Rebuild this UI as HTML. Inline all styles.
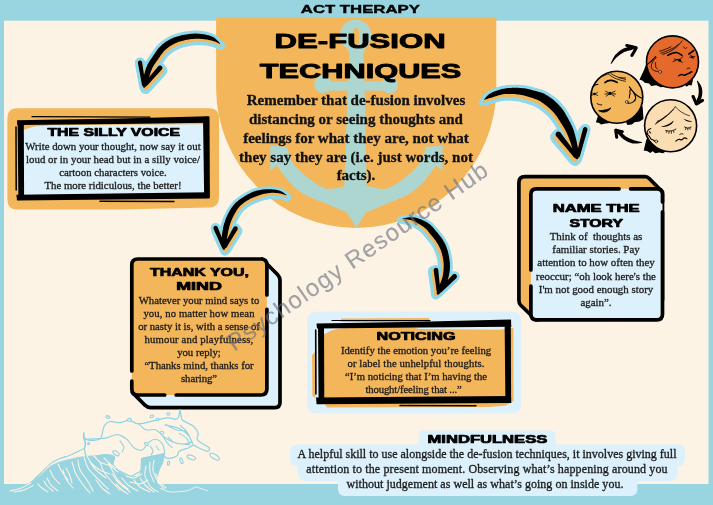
<!DOCTYPE html>
<html>
<head>
<meta charset="utf-8">
<title>ACT Therapy De-fusion Techniques</title>
<style>
html,body{margin:0;padding:0;}
body{width:713px;height:505px;overflow:hidden;background:#98d5e0;position:relative;font-family:"Liberation Serif",serif;}
#bg,#heads{position:absolute;left:0;top:0;width:713px;height:505px;}
.t{position:absolute;white-space:nowrap;text-align:center;font-family:"Liberation Serif",serif;-webkit-text-stroke:0.32px currentColor;will-change:transform;}
#wm{position:absolute;left:357.5px;top:255.7px;width:0;height:0;}
#wm span{position:absolute;white-space:nowrap;font-family:"Liberation Sans",sans-serif;font-size:24px;letter-spacing:1.28px;color:rgba(104,112,128,0.62);-webkit-text-stroke:0.12px rgba(104,112,128,0.62);transform:translate(-50%,-50%) rotate(-34.8deg);}
</style>
</head>
<body>
<svg id="bg" viewBox="0 0 713 505" width="713" height="505">
<!-- cream page -->
<rect x="4" y="20.7" width="704.5" height="463.3" fill="#fdf3e4"/>
<!-- orange half circle -->
<path d="M216.1 17.8H496.3V88A140.1 140.1 0 0 1 216.1 88Z" fill="#f4b65b"/>
<!-- ANCHOR -->
<g id="anchor" fill="#aed6d1">
<path fill-rule="evenodd" d="M355.6 19.7C365 19.7 371.4 27 371.4 35C371.4 41 368 45.5 365.4 48.5C364 50.5 363.6 53 363.6 56L364.8 95L366.6 186V200H344.2V186L347.6 95L349.6 56C349.6 53 348.6 50.5 346.6 48.5C343 45.5 339.9 41 339.9 35C339.9 27 346.4 19.7 355.6 19.7ZM356.2 27.4C354 27.4 352.8 31 352.8 36.4C352.8 41.5 354 45.4 356.2 45.4C358.4 45.4 359.6 41.5 359.6 36.4C359.6 31 358.4 27.4 356.2 27.4Z"/>
<rect x="320" y="81.6" width="72" height="9"/><circle cx="322.9" cy="84.4" r="8.8"/><circle cx="389.8" cy="85.1" r="8.4"/>
<path id="arm" d="M358 226.6L355.8 226.4L346.5 212.2C342 210.4 337 208.2 333.4 206.7C329 204.8 324 203 320.4 201.3C316 199.6 312.5 198.4 309.5 196.9C305 194.6 301.5 192.6 298.6 190.4C293 186.4 289 181.8 285.5 177.3C282 173 279 169 276.8 165.3L270.3 170.8L270.3 145.7L286.6 146.8L291 159.9C293 163.4 295.6 166.8 298.6 169.7C301.5 172.6 304.4 175.2 307.3 177.3C310 179.6 313 181.8 316 183.8C319 185.6 322 187.2 324.7 188.2C328 189.2 332 189 335.6 188.2L346.5 186L358 186Z"/>
<use href="#arm" transform="translate(712.8 0) scale(-1 1)"/>
</g>

<!-- SILLY VOICE box -->
<path d="M17 108.2H209Q219 108.2 219 118V197Q219 207.4 209 207.6L120 209.4H17Q7.4 209.4 7.4 199.4V118Q7.4 108.2 17 108.2Z" fill="#f4b65b"/>
<path d="M23 130L34 126.4L52 125.2L120 124.8L204 124.2L204.4 193.4L23.4 195.4Z" fill="#dcf1fb"/>
<g fill="#000">
<path d="M17 120.3L120 118.4L208.6 116.2L208.9 122.7L120 124L17.4 125.1Z"/>
<path d="M203 117L209.5 116.6L209.9 197.6L204.2 198.2Z"/>
<path d="M16.4 194.7L209 192.2L209.5 198.4L17 200.5Z"/>
<path d="M17.6 121L23.8 121L24.1 199L18.4 199.7Z"/>
</g>
<g fill="none" stroke="#000" stroke-linecap="round">
<path d="M32 116.7L150 117.1" stroke-width="1.2"/>
<path d="M16 127L16.2 190" stroke-width="1.5"/>
<path d="M100 201.3L174 201.5" stroke-width="1.4"/>
</g>

<!-- NOTICING box -->
<path d="M317 311.4H511Q521.4 311.4 521.4 321.4V403.5Q521.4 413.6 511 413.6H317Q307.2 413.6 307.2 403.6V321.4Q307.2 311.4 317 311.4Z" fill="#dcf1fb"/>
<path d="M341 318.4L429 318L429.4 321.6L341 322Z" fill="#f4b65b"/>
<path d="M312 355L315.4 352L315.4 398L312.4 396Z" fill="#f4b65b"/>
<path d="M324 334.6L330 331L338 328.8L346 327.8L412 327.4L420 329L500 329.8L513.4 327.8L513.6 401L506 405.4L490 407L327 407.4L323.6 402Z" fill="#f4b65b"/>
<g fill="#000">
<path d="M316.5 323.5L420 321.8L511 319.6L511.3 326.8L420 327.6L317 328.4Z"/>
<path d="M504.6 320.6L510.8 320.2L511.1 401L505.4 401.5Z"/>
<path d="M316 397.5L511 396L511.3 403L316.6 404.3Z"/>
<path d="M318 324.4L324 324.4L324.3 402.6L318.6 403.1Z"/>
</g>
<g fill="none" stroke="#000" stroke-linecap="round">
<path d="M332 320.5L430 320.7" stroke-width="1.2"/>
<path d="M315.7 330L315.9 394" stroke-width="1.6"/>
<path d="M400 405.5L476 405.7" stroke-width="1.4"/>
</g>

<!-- THANK YOU MIND 3D box -->
<g stroke="#000" stroke-width="3.7" stroke-linecap="round" stroke-linejoin="round">
<path d="M262 259L277.5 274.5Q280 277 280 280.5V402.6Q280 407.6 275 407.6H150.5Q147.5 407.6 145 405.2L132.5 392.6Z" fill="#dcf1fb"/>
<rect x="131.8" y="259" width="135.1" height="136" rx="6" fill="#f4b65b" stroke="none"/>
<g fill="none">
<path d="M266.9 309.3V389Q266.9 395 260.9 395H176.2"/>
<path d="M164.7 395H137.8Q131.8 395 131.8 389V381.2"/>
<path d="M131.8 371V265Q131.8 259 137.8 259H260.9Q266.9 259 266.9 265V295"/>
</g>
</g>

<!-- NAME THE STORY 3D box -->
<g stroke="#000" stroke-width="3.7" stroke-linecap="round" stroke-linejoin="round">
<path d="M518.9 182.7Q518.9 176.7 524.9 176.7H645Q647.5 176.7 649.5 178.7L662.5 192V300L536 320L521 305.5Q518.9 303.5 518.9 300.5Z" fill="#f4b65b"/>
<rect x="530.9" y="188.8" width="131.6" height="131" rx="5.5" fill="#dcf1fb" stroke="none"/>
<g fill="none">
<path d="M630.6 188.8H657Q662.5 188.8 662.5 194.3V201.9"/>
<path d="M662.5 211.9V314.3Q662.5 319.8 657 319.8H536.4Q530.9 319.8 530.9 314.3V286.2"/>
<path d="M530.9 270V194.3Q530.9 188.8 536.4 188.8H619.1"/>
</g>
</g>

<!-- MINDFULNESS highlight -->
<g fill="#dcf1fb">
<rect x="418.5" y="430.6" width="137.4" height="20" rx="5"/>
<rect x="290" y="444.6" width="395" height="21.6" rx="6.5"/>
<rect x="298" y="458" width="379.5" height="23" rx="6.5"/>
<rect x="338" y="472" width="299.4" height="24" rx="6.5"/>
</g>

<!-- WAVE -->
<g stroke-linecap="round" stroke-linejoin="round">
<path d="M84.4 449.0C84.6 448.0 85.5 444.8 85.4 443.0C85.3 441.2 84.1 440.0 83.8 438.1C83.6 436.3 83.7 432.2 83.8 432.2C84.0 432.2 83.6 436.8 84.8 438.1C86.0 439.5 88.4 440.5 91.0 440.5C93.6 440.5 98.3 440.5 100.5 438.1C102.7 435.8 102.5 429.0 104.1 426.2C105.7 423.4 107.5 422.1 110.1 421.5C112.7 420.9 116.4 422.9 119.6 422.7C122.8 422.5 126.0 420.1 129.1 420.3C132.3 420.5 134.3 423.8 138.7 423.8C143.1 423.8 150.6 421.3 155.4 420.3C160.1 419.3 163.7 418.1 167.3 417.9C170.9 417.7 174.8 419.7 176.8 419.1C178.8 418.5 178.7 415.9 179.2 414.3C179.7 412.7 179.7 409.5 179.9 409.5C180.2 409.6 180.4 413.0 180.9 414.8C181.4 416.6 180.7 418.4 182.8 420.3C184.9 422.2 190.9 424.0 193.5 426.2C196.1 428.4 197.7 431.2 198.3 433.4C198.9 435.6 196.3 437.6 197.1 439.3C197.9 441.1 201.1 442.7 203.1 444.1C205.0 445.5 208.2 446.5 209.0 447.7C209.8 448.9 209.2 451.1 207.8 451.3C206.4 451.5 203.1 449.9 200.7 448.9C198.3 447.9 195.5 445.5 193.5 445.3C191.5 445.1 191.1 446.7 188.8 447.7C186.4 448.7 181.2 449.9 179.2 451.3C177.2 452.7 178.8 454.8 176.8 456.0C174.8 457.2 169.7 458.8 167.3 458.4C164.9 458.0 163.3 454.4 162.5 453.6L164.0 454.0L155.2 455.5L141.8 458.5L141.0 471.0L131.0 476.5L118.0 470.3L112.9 464.4L114.5 457.0L104.7 454.7L95.0 456.0L86.0 456.5Z" fill="#fdf3e4" stroke="#8fd3e4" stroke-width="1.25"/>
<path d="M26.0 485.0C27.2 484.3 30.3 482.8 33.0 481.0C35.7 479.2 39.0 476.5 42.0 474.0C45.0 471.5 47.9 468.0 50.9 466.0C53.9 464.0 56.9 463.1 60.0 462.0C63.1 460.9 66.4 460.2 69.4 459.5C72.4 458.8 75.2 458.0 78.0 457.5C80.8 457.0 83.2 456.8 86.0 456.5C88.8 456.2 91.9 456.3 95.0 456.0C98.1 455.7 102.0 454.9 104.7 454.7C107.4 454.5 109.4 454.6 111.0 455.0C112.6 455.4 114.1 456.0 114.5 457.0C114.9 458.0 113.8 459.8 113.5 461.0C113.2 462.2 112.7 463.2 112.9 464.4C113.1 465.6 113.7 467.0 114.5 468.0C115.3 469.0 116.4 469.2 118.0 470.3C119.6 471.4 121.8 473.5 124.0 474.5C126.2 475.5 128.7 476.2 131.0 476.5C133.3 476.8 136.3 476.9 138.0 476.0C139.7 475.1 140.4 473.2 141.0 471.0C141.6 468.8 141.4 465.1 141.5 463.0C141.6 460.9 140.7 459.5 141.8 458.5C142.9 457.5 145.8 457.5 148.0 457.0C150.2 456.5 153.2 455.9 155.2 455.5C157.2 455.1 158.5 454.8 160.0 454.5C161.5 454.2 163.5 452.8 164.0 454.0C164.5 455.2 163.8 459.2 163.0 462.0C162.2 464.8 160.0 467.8 159.0 471.0C158.0 474.2 157.1 478.5 157.0 481.0C156.9 483.5 158.2 485.2 158.5 486.0L162 486L20 486Z" fill="#98d5e0" stroke="#98d5e0" stroke-width="0.8"/>
<path d="M85.0 439.3C88.4 439.1 99.9 438.9 105.3 438.1C110.7 437.4 113.6 434.4 117.2 434.6C120.8 434.8 124.0 437.2 126.8 439.3C129.5 441.5 131.3 445.9 133.9 447.7C136.5 449.5 139.9 450.9 142.3 450.1C144.6 449.3 146.0 444.7 148.2 442.9C150.4 441.1 153.0 439.1 155.4 439.3C157.8 439.5 160.9 441.7 162.5 444.1C164.1 446.5 164.5 452.1 164.9 453.6M162.5 435.8C164.1 436.8 168.5 440.3 172.1 441.7C175.6 443.1 180.6 444.1 184.0 444.1C187.4 444.1 190.9 442.1 192.3 441.7M164.9 425.0C167.3 425.6 175.2 426.8 179.2 428.6C183.2 430.4 186.4 433.0 188.8 435.8C191.1 438.5 192.7 443.7 193.5 445.3M138.7 423.8C139.9 424.8 143.1 428.8 145.8 429.8C148.6 430.8 152.6 428.8 155.4 429.8C158.2 430.8 160.5 433.6 162.5 435.8C164.5 438.0 165.7 440.9 167.3 442.9C168.9 444.9 171.3 446.9 172.1 447.7M179.2 433.4C180.4 434.2 184.6 436.4 186.4 438.1C188.2 439.9 189.4 443.1 189.9 444.1M166.0 424.5C167.6 425.4 172.5 428.6 175.6 429.7C178.7 430.8 182.4 430.2 184.6 431.2C186.8 432.2 188.3 434.9 189.0 435.6M168.2 437.1C169.4 438.1 172.1 441.9 175.6 443.1C179.1 444.4 186.8 444.4 189.0 444.6M180.1 425.2C181.3 426.4 185.5 429.7 187.5 432.7C189.5 435.7 191.2 441.4 192.0 443.1M120.0 441.0C120.7 442.0 123.7 445.2 124.0 447.0C124.3 448.8 122.3 451.2 122.0 452.0M150.0 446.0C150.5 446.8 152.8 449.5 153.0 451.0C153.2 452.5 151.3 454.3 151.0 455.0M156.0 446.0C156.5 446.7 158.5 449.3 159.0 450.0" fill="none" stroke="#8fd3e4" stroke-width="1.1"/>
<path d="M30.9 482.5C32.6 480.9 37.7 476.2 41.0 473.0C44.3 469.8 47.7 465.8 50.9 463.4C54.1 461.0 56.9 459.9 60.0 458.6C63.1 457.3 66.4 456.6 69.4 455.4C72.4 454.2 75.5 452.8 78.0 451.6C80.5 450.4 83.2 449.4 84.4 448.0C85.6 446.6 85.5 444.6 85.4 443.0C85.3 441.4 84.1 439.0 83.8 438.2" fill="none" stroke="#8fd3e4" stroke-width="1.1"/>
<g fill="#fdf3e4" stroke="#8fd3e4" stroke-width="1.1"><ellipse cx="168.5" cy="463.2" rx="1.0" ry="2.2" transform="rotate(10 168.5 463.2)"/><ellipse cx="181.4" cy="460.8" rx="1.3" ry="3.0" transform="rotate(-20 181.4 460.8)"/><ellipse cx="191.3" cy="457.4" rx="4.4" ry="2.0" transform="rotate(20 191.3 457.4)"/><ellipse cx="214.6" cy="456.6" rx="5.4" ry="2.2" transform="rotate(32 214.6 456.6)"/><ellipse cx="107.9" cy="417" rx="2.0" ry="1.2" transform="rotate(20 107.9 417)"/><ellipse cx="151.9" cy="416.4" rx="1.8" ry="1.2" transform="rotate(-20 151.9 416.4)"/><ellipse cx="168.4" cy="413.9" rx="1.6" ry="1.2" transform="rotate(0 168.4 413.9)"/><ellipse cx="129.4" cy="419.8" rx="2.0" ry="1.4" transform="rotate(0 129.4 419.8)"/><ellipse cx="157.6" cy="419.6" rx="1.6" ry="1.2" transform="rotate(0 157.6 419.6)"/><ellipse cx="116" cy="453.2" rx="3.6" ry="1.8" transform="rotate(35 116 453.2)"/><ellipse cx="146.4" cy="444" rx="2.2" ry="1.2" transform="rotate(40 146.4 444)"/><ellipse cx="162" cy="432.6" rx="1.8" ry="1.4" transform="rotate(0 162 432.6)"/><ellipse cx="88.6" cy="443.6" rx="1.0" ry="1.0" transform="rotate(0 88.6 443.6)"/></g>
<path d="M10.0 491.0C11.7 490.6 16.5 489.8 20.0 488.5C23.5 487.2 29.2 483.9 31.0 483.0M14.0 492.0C15.7 491.7 20.8 491.1 24.0 490.0C27.2 488.9 31.5 486.3 33.0 485.6M44.0 481.0C44.5 481.8 45.5 484.3 47.0 486.0C48.5 487.7 52.0 490.2 53.0 491.0M47.0 478.0C47.7 479.2 49.2 482.8 51.0 485.0C52.8 487.2 56.8 490.0 58.0 491.0M50.0 470.0C50.7 471.3 52.3 475.7 54.0 478.0C55.7 480.3 59.0 483.0 60.0 484.0M63.0 470.0C63.5 471.5 64.3 476.0 66.0 479.0C67.7 482.0 71.8 486.5 73.0 488.0M66.0 468.0C66.7 469.3 69.0 473.5 70.0 476.0C71.0 478.5 71.7 481.8 72.0 483.0M78.0 460.0C78.3 461.7 78.5 466.7 80.0 470.0C81.5 473.3 84.8 476.5 87.0 480.0C89.2 483.5 92.0 489.2 93.0 491.0M84.0 457.0C84.7 458.8 85.8 464.5 88.0 468.0C90.2 471.5 93.7 474.5 97.0 478.0C100.3 481.5 106.2 487.2 108.0 489.0M90.0 462.0C91.0 463.3 93.3 467.3 96.0 470.0C98.7 472.7 104.3 476.7 106.0 478.0M100.0 462.0C100.7 463.7 102.0 468.7 104.0 472.0C106.0 475.3 109.3 479.0 112.0 482.0C114.7 485.0 118.7 488.7 120.0 490.0M108.0 462.0C108.7 463.3 110.3 467.0 112.0 470.0C113.7 473.0 115.3 476.8 118.0 480.0C120.7 483.2 126.3 487.5 128.0 489.0M112.0 474.0C113.0 475.3 115.0 479.0 118.0 482.0C121.0 485.0 128.0 490.3 130.0 492.0M122.0 478.0C123.0 479.2 125.3 482.8 128.0 485.0C130.7 487.2 136.3 490.0 138.0 491.0M134.0 480.0C135.0 481.2 137.3 485.0 140.0 487.0C142.7 489.0 148.3 491.2 150.0 492.0M146.0 466.0C145.8 467.7 144.3 472.7 145.0 476.0C145.7 479.3 147.8 483.3 150.0 486.0C152.2 488.7 156.7 491.0 158.0 492.0M150.0 462.0C150.0 463.7 149.3 468.7 150.0 472.0C150.7 475.3 153.3 480.3 154.0 482.0M154.0 460.0C153.8 461.7 152.5 466.7 153.0 470.0C153.5 473.3 155.2 476.8 157.0 480.0C158.8 483.2 162.8 487.5 164.0 489.0M72.0 462.0C72.7 464.0 74.0 470.0 76.0 474.0C78.0 478.0 81.7 482.8 84.0 486.0C86.3 489.2 89.0 491.8 90.0 493.0M96.0 480.0C97.0 481.3 99.7 485.7 102.0 488.0C104.3 490.3 108.7 493.0 110.0 494.0M87.0 456.0C87.8 457.3 89.8 461.7 92.0 464.0C94.2 466.3 97.0 468.3 100.0 470.0C103.0 471.7 108.3 473.3 110.0 474.0M94.0 456.0C95.0 457.0 97.3 460.3 100.0 462.0C102.7 463.7 107.0 464.3 110.0 466.0C113.0 467.7 116.7 471.0 118.0 472.0M104.0 458.0C105.0 459.0 108.0 462.3 110.0 464.0C112.0 465.7 115.0 467.3 116.0 468.0M126.0 476.0C127.3 476.3 131.3 478.3 134.0 478.0C136.7 477.7 140.7 474.7 142.0 474.0M130.0 482.0C131.7 482.3 137.0 484.3 140.0 484.0C143.0 483.7 146.7 480.7 148.0 480.0M58.0 464.0C58.7 465.3 60.3 469.3 62.0 472.0C63.7 474.7 67.0 478.7 68.0 480.0M38.0 484.0C38.7 484.7 40.3 486.7 42.0 488.0C43.7 489.3 47.0 491.3 48.0 492.0M156.0 474.0C156.7 475.3 158.3 479.7 160.0 482.0C161.7 484.3 165.0 487.0 166.0 488.0M116.0 484.0C117.0 485.0 120.0 488.3 122.0 490.0C124.0 491.7 127.0 493.3 128.0 494.0M140.0 478.0C141.0 479.3 143.7 483.7 146.0 486.0C148.3 488.3 152.7 491.0 154.0 492.0" fill="none" stroke="#fdf3e4" stroke-width="1.1"/>
<path d="M160.0 488.4C161.6 489.0 166.4 491.3 169.7 491.8C173.0 492.3 176.8 491.8 180.0 491.6C183.2 491.4 186.2 491.2 188.8 490.4C191.5 489.6 193.9 487.3 195.9 487.0C197.9 486.7 199.0 488.0 201.0 488.6C203.0 489.2 206.7 490.4 207.8 490.8" fill="none" stroke="#fdf3e4" stroke-width="0.9"/>
</g>


<!-- FACES -->
<g stroke-linecap="round" stroke-linejoin="round">
<!-- face 3 (sad, cream) hair -->
<path d="M648.5 134.0L646.0 141.0L643.7 150.6L647.6 151.2L650.2 153.1L652.7 151.2L655.3 153.3L659.2 152.5L663.0 153.2L668.0 150.0L660.0 140.0Z" fill="#000"/>
<circle cx="670.6" cy="125.7" r="26" fill="#fbddb3" stroke="#000" stroke-width="1.6"/>
<g fill="none" stroke="#000">
<path d="M675.3 106.8C672 111 666 117 655.3 124.2M673.6 109.6C669 114.5 662 120.5 656.6 122.4M666 115.8C663 118.5 660 120.5 657.4 121.2" stroke-width="0.8"/>
<path d="M675.3 106.8C678 110 683 114 689.4 115.8" stroke-width="0.7"/>
<path d="M665.6 130.4C669 131.8 673 131 675.9 129.1M684.6 127C686.5 128.5 689 128.5 691.1 127" stroke-width="0.9"/>
<path d="M667 131L666.2 132.6M669.2 131.6L668.8 133.4M671.4 131.6L671.4 133.4M673.4 130.8L674 132.4M686 128L685.4 129.6M687.8 128.4L687.8 130M689.6 128L690.2 129.4" stroke-width="0.75"/>
<path d="M679.8 134.4C681 133.6 682.2 133.6 683 134" stroke-width="0.9"/>
<path d="M675.9 141.2C677.5 139.6 678.6 138.8 679.8 139.4C681 140.2 682 140 683 138.8C684 137.6 685.4 137.6 686.9 138.7" stroke-width="1.2"/>
<path d="M650.8 128.6C647 129.5 645.8 133.5 648.2 135.2C650.5 136.6 649.5 138.8 652 139.6C653.5 140 654.5 141 655.3 141.6M646 133L648 133.4M649.4 131.6L650.6 133" stroke-width="1.05"/>
</g>
<path d="M660.5 126.9C664.5 126 670 124 673.6 120.4C673.4 122.6 671 125 668 126C665 127 662 127.2 660.5 126.9ZM683.4 118.6C685 119.6 688 120.8 692.3 121.2C690.5 122.4 686 122.2 683.4 118.6Z" fill="#000"/>
<circle cx="656.3" cy="141.4" r="1.4" fill="#fbddb3" stroke="#000" stroke-width="0.7"/>

<!-- face 1 (angry, red-orange) hair -->
<path d="M647.5 60.0L644.0 70.0L639.5 79.5L642.7 80.8L644.7 82.8L649.2 83.4L651.1 86.0L656.2 85.3L660.7 87.3L668.0 86.0L660.0 70.0Z" fill="#000"/>
<path d="M694.0 74.0L692.8 80.8L691.6 85.6L689.0 85.0L686.5 86.8L684.0 84.0Z" fill="#000"/>
<circle cx="672.5" cy="61.9" r="26" fill="#e4692a" stroke="#000" stroke-width="1.6"/>
<g fill="none" stroke="#000">
<path d="M659.5 51.2C664 50 668 48.5 671 46.7M660.7 53.2C668 51 675 47.5 678.8 44.2M662.7 54.5C671 52 678 47 682 40.9" stroke-width="0.8"/>
<path d="M667.8 55.3C671 53.6 674 52.4 676.4 52.6C678.5 53 680.4 54.2 682 55.3" stroke-width="1.5"/>
<path d="M688.8 54C690.6 53 692.4 51.6 693.8 50.4" stroke-width="1.6"/>
<path d="M673 61.6L678 59.4M674.2 59L678.6 59.8M680.8 58.6L682.6 56.6M680.2 61.4L682.4 62.2M689.6 57.2L694.8 56.6M690.4 55L693.4 58.6" stroke-width="0.8"/>
<path d="M683.6 46.6C684.6 47 684.2 48.4 685.2 48.6C686 48.8 686 47.4 686.8 47.6" stroke-width="0.7"/>
<path d="M687 68.8C688 68 689 68 689.8 68.3" stroke-width="0.9"/>
<path d="M678.8 75.8C680.2 74.6 681.4 74 682.6 74.6C684 75.4 685.2 75.4 686.4 74.4C687.8 73.2 688.6 73.6 689.6 73C690.4 72.4 691 72 691.8 71.7" stroke-width="1.5"/>
<path d="M656.4 57.6C653.5 60 650.6 64 651.4 67.6C652.2 70.4 655.4 71.6 658.4 71.4M655.6 62.4C654.4 63.6 656.4 64.8 655.6 66.2C655 67.4 656.6 68.2 657.4 68.8" stroke-width="0.8"/>
<path d="M647 64.6C650 62.6 653 59.6 655.6 56.6" stroke-width="1.05"/>
</g>
<circle cx="679.6" cy="60.3" r="1.5" fill="#000"/><circle cx="692.2" cy="57" r="1.3" fill="#000"/>
<circle cx="660.1" cy="71.9" r="1.4" fill="#e9e4dc" stroke="#000" stroke-width="0.7"/>

<!-- face 2 (happy, orange) hair -->
<path d="M598.6 114.0L595.9 122.3L599.1 122.9L601.0 124.4L605.5 123.6L608.7 123.2L612.0 122.0L606.0 114.0Z" fill="#000"/>
<path d="M642.6 106.0L643.5 119.0L639.6 121.6L634.5 122.3L631.9 124.4L627.4 124.9L626.0 122.0L634.0 112.0Z" fill="#000"/>
<circle cx="616.8" cy="97.3" r="26" fill="#f4b65b" stroke="#000" stroke-width="1.6"/>
<g fill="none" stroke="#000">
<path d="M608.7 74C611 76.5 616 79.6 625.5 81.3M610.7 73.4C614 75.6 619 78 625.5 79.4M619 77.6L625.6 78M603 76.4C605 75 607 74.2 608.7 74" stroke-width="0.8"/>
<path d="M604.9 82.6C607 80.8 609.5 80.2 611.5 80.4C613.6 80.6 615.6 81.4 617.2 82.5" stroke-width="1.6"/>
<path d="M593.9 85.8C595 84.8 596.4 84.4 597.8 84.4" stroke-width="1.1"/>
<path d="M605.6 91.2L608.4 92.6M605 94L608 93.8M606.2 96.2L608.6 94.6M615 91.2L612 92.6M615.6 94L612.4 93.8M614.4 96.2L612 94.6M591.6 92.6L593.6 93.6M591.4 95.4L593.4 94.6M597.4 92.4L595.6 93.4M597.6 95.4L595.8 94.6" stroke-width="0.8"/>
<path d="M597.2 103.6C598.6 104.6 600.2 105 601.7 104.9" stroke-width="0.9"/>
<path d="M629.3 86.9C632 90 634.6 93.6 635.6 97C636.4 100.6 632 103.8 628 103.2M629.3 86.9C632.4 91.6 637 96.4 642.4 98.6M630.4 89.6C628.6 91.6 631 93 629.8 94.6C628.8 96 630 97 629.2 98" stroke-width="1.05"/>
</g>
<path d="M599 110.8C601 110.8 604 110.2 606.6 109.6C608.4 109.2 609.8 108.6 610.8 107.9C609.8 110 607.4 111.6 604.8 112C602.4 112.4 600.2 111.8 599 110.8Z" fill="#000" stroke="#000" stroke-width="0.75"/>
<circle cx="610.1" cy="93.4" r="1.7" fill="#000"/><circle cx="594.6" cy="94" r="1.2" fill="#000"/>
<circle cx="626.8" cy="101.9" r="1.4" fill="#efe9df" stroke="#000" stroke-width="0.7"/>
</g>

<path d="M611.4 63.7L612.0 63.0L612.8 61.9L613.7 60.7L614.7 59.5L615.7 58.3L616.8 57.3L617.8 56.4L619.0 55.4L620.2 54.5L621.4 53.7L622.7 52.9L623.8 52.3L624.9 51.8L626.0 51.4L627.1 51.0L628.2 50.7L629.4 50.5L630.5 50.2L631.5 49.9L632.7 49.6L633.8 49.3L634.8 49.1L635.7 48.8L636.4 48.7L636.9 48.5L637.2 48.1L637.3 47.6L637.1 47.1L636.7 46.8L636.2 46.7L635.5 46.7L634.6 46.6L633.5 46.6L632.3 46.6L631.0 46.7L629.7 46.8L628.6 47.1L627.4 47.3L626.1 47.7L624.8 48.1L623.5 48.6L622.2 49.3L620.9 50.1L619.6 51.0L618.3 52.1L617.1 53.2L615.9 54.3L614.8 55.5L613.9 56.9L613.0 58.4L612.3 59.9L611.7 61.3L611.1 62.5L610.8 63.3L610.7 63.5L610.7 63.7L610.9 63.8L611.1 63.9L611.3 63.9ZM626.4 46.9L628.5 47.4L631.2 48.0L633.9 48.6L636.0 49.1L636.7 49.0L637.3 48.7L637.7 48.0L637.6 47.3L637.3 46.7L636.6 46.3L634.6 45.8L631.9 45.1L629.2 44.4L627.2 43.9L626.4 43.9L625.7 44.3L625.3 45.0L625.3 45.8L625.7 46.5ZM633.2 56.2L634.2 54.6L635.4 52.5L636.6 50.4L637.5 48.7L637.7 48.0L637.5 47.3L637.0 46.8L636.3 46.6L635.6 46.8L635.1 47.3L634.1 48.9L632.8 50.9L631.6 53.0L630.6 54.6L630.4 55.4L630.5 56.2L631.1 56.7L631.9 56.9L632.7 56.8ZM696.9 81.4L697.2 82.2L697.5 83.2L697.8 84.5L698.1 85.8L698.4 87.0L698.5 88.2L698.6 89.2L698.7 90.4L698.7 91.5L698.7 92.6L698.6 93.7L698.5 94.7L698.3 95.6L698.1 96.5L697.8 97.3L697.4 98.2L697.0 99.1L696.7 100.0L696.5 100.7L696.3 101.4L696.1 102.1L695.9 102.7L695.7 103.3L695.6 103.6L695.5 104.2L695.7 104.6L696.0 105.0L696.6 105.1L697.0 104.9L697.4 104.6L697.6 104.2L698.0 103.8L698.4 103.3L698.8 102.7L699.3 102.0L699.7 101.2L700.1 100.5L700.5 99.7L701.0 98.7L701.4 97.7L701.8 96.5L702.1 95.3L702.2 94.0L702.3 92.7L702.3 91.4L702.2 90.1L702.0 88.8L701.7 87.4L701.1 86.1L700.5 84.8L699.7 83.6L698.9 82.5L698.3 81.6L697.9 81.0L697.7 80.8L697.4 80.7L697.2 80.7L697.0 80.9L696.9 81.2ZM691.6 97.1L692.4 98.8L693.4 100.9L694.3 103.0L695.1 104.7L695.5 105.3L696.2 105.5L697.0 105.4L697.6 105.0L697.8 104.3L697.7 103.5L697.0 101.8L696.1 99.7L695.3 97.5L694.6 95.9L694.1 95.2L693.3 94.9L692.5 95.0L691.8 95.5L691.5 96.3ZM701.6 99.1L700.4 99.9L698.8 101.0L697.2 102.0L695.9 102.9L695.4 103.4L695.3 104.2L695.5 104.9L696.0 105.4L696.8 105.5L697.5 105.3L698.8 104.5L700.4 103.5L702.1 102.5L703.4 101.7L703.9 101.1L704.1 100.3L703.8 99.5L703.2 99.0L702.4 98.8ZM641.5 141.9L640.6 141.7L639.3 141.5L637.8 141.2L636.2 140.8L634.7 140.5L633.4 140.0L632.2 139.6L631.0 139.1L629.7 138.6L628.5 138.0L627.4 137.3L626.3 136.7L625.3 136.0L624.4 135.3L623.5 134.4L622.6 133.6L621.7 132.8L620.8 132.0L619.9 131.4L619.0 130.8L618.2 130.3L617.4 129.9L616.8 129.5L616.3 129.2L615.9 129.0L615.3 129.1L614.9 129.4L614.7 129.8L614.8 130.4L615.1 130.8L615.4 131.2L615.9 131.7L616.5 132.4L617.2 133.1L617.9 133.9L618.6 134.6L619.3 135.3L620.1 136.1L621.0 137.0L622.0 138.0L623.1 138.9L624.3 139.7L625.5 140.5L626.8 141.2L628.2 141.9L629.6 142.5L631.1 143.0L632.6 143.4L634.2 143.5L636.0 143.5L637.7 143.4L639.2 143.2L640.5 143.0L641.5 142.9L641.7 142.8L641.9 142.7L642.0 142.4L641.9 142.2L641.8 142.0ZM622.7 130.2L621.2 129.9L619.4 129.4L617.5 129.0L616.0 128.6L615.3 128.7L614.7 129.0L614.3 129.7L614.4 130.4L614.7 131.0L615.4 131.4L616.8 131.8L618.6 132.3L620.5 132.8L621.9 133.2L622.7 133.2L623.4 132.8L623.8 132.1L623.8 131.3L623.4 130.6ZM618.2 137.1L618.0 135.5L617.6 133.5L617.3 131.5L617.0 129.9L616.7 129.2L616.1 128.8L615.4 128.7L614.7 129.0L614.3 129.6L614.2 130.3L614.4 131.9L614.7 133.9L615.0 136.0L615.2 137.5L615.5 138.3L616.1 138.7L616.9 138.8L617.7 138.5L618.1 137.9Z" fill="#000"/>
<!-- ARROWS -->

<g>
<path d="M220.0 43.3L219.5 42.8L218.9 42.1L218.2 41.3L217.3 40.4L216.4 39.4L215.3 38.5L214.1 37.6L212.8 36.9L211.4 36.3L209.9 35.8L208.4 35.3L206.7 34.9L205.1 34.5L203.4 34.2L201.7 34.0L200.0 33.8L198.3 33.7L196.5 33.6L194.8 33.6L193.0 33.7L191.3 33.8L189.5 34.0L187.8 34.2L186.0 34.4L184.3 34.7L182.6 35.1L180.8 35.5L179.1 35.9L177.3 36.4L175.6 37.0L173.9 37.6L172.3 38.3L170.7 39.0L169.2 39.8L167.7 40.7L166.2 41.6L164.8 42.6L163.5 43.6L162.2 44.6L161.0 45.7L159.8 46.9L158.7 48.1L157.7 49.3L156.8 50.5L155.9 51.7L155.1 52.9L154.3 54.1L153.5 55.3L152.7 56.5L151.9 57.7L151.0 58.9L150.1 60.2L149.3 61.5L148.5 62.9L147.7 64.3L147.0 65.9L146.3 67.6L145.7 69.3L145.1 71.2L144.6 73.0L144.1 74.8L143.7 76.5L143.4 78.0L143.1 79.4L142.9 80.6L142.8 81.7L142.7 82.7L142.7 83.7L142.8 84.4L142.8 85.1L142.9 85.6L142.9 86.1L143.0 86.8L143.4 87.4L144.1 87.7L144.8 87.6L145.4 87.2L145.7 86.5L145.8 86.1L146.0 85.5L146.3 84.9L146.5 84.3L146.8 83.5L147.2 82.7L147.5 81.7L147.9 80.6L148.4 79.4L148.8 77.9L149.3 76.3L149.9 74.6L150.4 72.9L151.0 71.2L151.6 69.7L152.2 68.3L152.9 67.0L153.6 65.8L154.3 64.6L155.1 63.5L155.9 62.3L156.7 61.1L157.6 59.9L158.5 58.7L159.3 57.5L160.1 56.3L160.9 55.1L161.7 54.0L162.5 53.0L163.3 52.0L164.1 51.0L165.0 50.1L166.1 49.2L167.2 48.3L168.3 47.4L169.5 46.5L170.8 45.7L172.1 44.9L173.4 44.2L174.7 43.5L176.1 42.9L177.5 42.3L179.0 41.8L180.6 41.3L182.2 40.9L183.8 40.4L185.4 40.1L187.0 39.8L188.5 39.5L190.1 39.3L191.7 39.1L193.4 38.9L195.0 38.8L196.5 38.8L198.1 38.8L199.6 38.8L201.2 38.9L202.7 39.0L204.3 39.2L205.9 39.4L207.4 39.6L208.8 39.9L210.2 40.2L211.4 40.5L212.6 40.8L213.8 41.2L215.0 41.6L216.1 42.1L217.2 42.6L218.2 43.1L219.0 43.5L219.6 43.7L219.8 43.8L219.9 43.8L220.0 43.7L220.1 43.5L220.1 43.4ZM137.9 62.8L138.8 67.8L140.0 74.1L141.1 80.4L142.0 85.3L142.4 86.1L143.2 86.7L144.1 86.8L144.9 86.4L145.5 85.6L145.6 84.7L144.8 79.8L143.8 73.4L142.8 67.1L142.1 62.2L141.6 61.2L140.7 60.5L139.7 60.4L138.7 60.9L138.0 61.8ZM158.2 66.2L155.1 70.0L151.1 74.7L147.2 79.5L144.1 83.3L143.6 84.1L143.7 85.1L144.3 85.9L145.1 86.4L146.1 86.3L146.9 85.7L150.2 82.2L154.4 77.6L158.6 73.0L161.8 69.4L162.4 68.3L162.3 67.0L161.6 66.0L160.5 65.4L159.2 65.5Z" transform="translate(1.3 2.7)" fill="#8ed8ec" stroke="#8ed8ec" stroke-width="7.4" stroke-linejoin="round"/>
<path d="M220.0 43.3L219.5 42.8L218.9 42.1L218.2 41.3L217.3 40.4L216.4 39.4L215.3 38.5L214.1 37.6L212.8 36.9L211.4 36.3L209.9 35.8L208.4 35.3L206.7 34.9L205.1 34.5L203.4 34.2L201.7 34.0L200.0 33.8L198.3 33.7L196.5 33.6L194.8 33.6L193.0 33.7L191.3 33.8L189.5 34.0L187.8 34.2L186.0 34.4L184.3 34.7L182.6 35.1L180.8 35.5L179.1 35.9L177.3 36.4L175.6 37.0L173.9 37.6L172.3 38.3L170.7 39.0L169.2 39.8L167.7 40.7L166.2 41.6L164.8 42.6L163.5 43.6L162.2 44.6L161.0 45.7L159.8 46.9L158.7 48.1L157.7 49.3L156.8 50.5L155.9 51.7L155.1 52.9L154.3 54.1L153.5 55.3L152.7 56.5L151.9 57.7L151.0 58.9L150.1 60.2L149.3 61.5L148.5 62.9L147.7 64.3L147.0 65.9L146.3 67.6L145.7 69.3L145.1 71.2L144.6 73.0L144.1 74.8L143.7 76.5L143.4 78.0L143.1 79.4L142.9 80.6L142.8 81.7L142.7 82.7L142.7 83.7L142.8 84.4L142.8 85.1L142.9 85.6L142.9 86.1L143.0 86.8L143.4 87.4L144.1 87.7L144.8 87.6L145.4 87.2L145.7 86.5L145.8 86.1L146.0 85.5L146.3 84.9L146.5 84.3L146.8 83.5L147.2 82.7L147.5 81.7L147.9 80.6L148.4 79.4L148.8 77.9L149.3 76.3L149.9 74.6L150.4 72.9L151.0 71.2L151.6 69.7L152.2 68.3L152.9 67.0L153.6 65.8L154.3 64.6L155.1 63.5L155.9 62.3L156.7 61.1L157.6 59.9L158.5 58.7L159.3 57.5L160.1 56.3L160.9 55.1L161.7 54.0L162.5 53.0L163.3 52.0L164.1 51.0L165.0 50.1L166.1 49.2L167.2 48.3L168.3 47.4L169.5 46.5L170.8 45.7L172.1 44.9L173.4 44.2L174.7 43.5L176.1 42.9L177.5 42.3L179.0 41.8L180.6 41.3L182.2 40.9L183.8 40.4L185.4 40.1L187.0 39.8L188.5 39.5L190.1 39.3L191.7 39.1L193.4 38.9L195.0 38.8L196.5 38.8L198.1 38.8L199.6 38.8L201.2 38.9L202.7 39.0L204.3 39.2L205.9 39.4L207.4 39.6L208.8 39.9L210.2 40.2L211.4 40.5L212.6 40.8L213.8 41.2L215.0 41.6L216.1 42.1L217.2 42.6L218.2 43.1L219.0 43.5L219.6 43.7L219.8 43.8L219.9 43.8L220.0 43.7L220.1 43.5L220.1 43.4ZM137.9 62.8L138.8 67.8L140.0 74.1L141.1 80.4L142.0 85.3L142.4 86.1L143.2 86.7L144.1 86.8L144.9 86.4L145.5 85.6L145.6 84.7L144.8 79.8L143.8 73.4L142.8 67.1L142.1 62.2L141.6 61.2L140.7 60.5L139.7 60.4L138.7 60.9L138.0 61.8ZM158.2 66.2L155.1 70.0L151.1 74.7L147.2 79.5L144.1 83.3L143.6 84.1L143.7 85.1L144.3 85.9L145.1 86.4L146.1 86.3L146.9 85.7L150.2 82.2L154.4 77.6L158.6 73.0L161.8 69.4L162.4 68.3L162.3 67.0L161.6 66.0L160.5 65.4L159.2 65.5Z" fill="#8ed8ec" stroke="#8ed8ec" stroke-width="6.0" stroke-linejoin="round"/>
<path d="M220.0 43.3L219.5 42.8L218.9 42.1L218.2 41.3L217.3 40.4L216.4 39.4L215.3 38.5L214.1 37.6L212.8 36.9L211.4 36.3L209.9 35.8L208.4 35.3L206.7 34.9L205.1 34.5L203.4 34.2L201.7 34.0L200.0 33.8L198.3 33.7L196.5 33.6L194.8 33.6L193.0 33.7L191.3 33.8L189.5 34.0L187.8 34.2L186.0 34.4L184.3 34.7L182.6 35.1L180.8 35.5L179.1 35.9L177.3 36.4L175.6 37.0L173.9 37.6L172.3 38.3L170.7 39.0L169.2 39.8L167.7 40.7L166.2 41.6L164.8 42.6L163.5 43.6L162.2 44.6L161.0 45.7L159.8 46.9L158.7 48.1L157.7 49.3L156.8 50.5L155.9 51.7L155.1 52.9L154.3 54.1L153.5 55.3L152.7 56.5L151.9 57.7L151.0 58.9L150.1 60.2L149.3 61.5L148.5 62.9L147.7 64.3L147.0 65.9L146.3 67.6L145.7 69.3L145.1 71.2L144.6 73.0L144.1 74.8L143.7 76.5L143.4 78.0L143.1 79.4L142.9 80.6L142.8 81.7L142.7 82.7L142.7 83.7L142.8 84.4L142.8 85.1L142.9 85.6L142.9 86.1L143.0 86.8L143.4 87.4L144.1 87.7L144.8 87.6L145.4 87.2L145.7 86.5L145.8 86.1L146.0 85.5L146.3 84.9L146.5 84.3L146.8 83.5L147.2 82.7L147.5 81.7L147.9 80.6L148.4 79.4L148.8 77.9L149.3 76.3L149.9 74.6L150.4 72.9L151.0 71.2L151.6 69.7L152.2 68.3L152.9 67.0L153.6 65.8L154.3 64.6L155.1 63.5L155.9 62.3L156.7 61.1L157.6 59.9L158.5 58.7L159.3 57.5L160.1 56.3L160.9 55.1L161.7 54.0L162.5 53.0L163.3 52.0L164.1 51.0L165.0 50.1L166.1 49.2L167.2 48.3L168.3 47.4L169.5 46.5L170.8 45.7L172.1 44.9L173.4 44.2L174.7 43.5L176.1 42.9L177.5 42.3L179.0 41.8L180.6 41.3L182.2 40.9L183.8 40.4L185.4 40.1L187.0 39.8L188.5 39.5L190.1 39.3L191.7 39.1L193.4 38.9L195.0 38.8L196.5 38.8L198.1 38.8L199.6 38.8L201.2 38.9L202.7 39.0L204.3 39.2L205.9 39.4L207.4 39.6L208.8 39.9L210.2 40.2L211.4 40.5L212.6 40.8L213.8 41.2L215.0 41.6L216.1 42.1L217.2 42.6L218.2 43.1L219.0 43.5L219.6 43.7L219.8 43.8L219.9 43.8L220.0 43.7L220.1 43.5L220.1 43.4ZM137.9 62.8L138.8 67.8L140.0 74.1L141.1 80.4L142.0 85.3L142.4 86.1L143.2 86.7L144.1 86.8L144.9 86.4L145.5 85.6L145.6 84.7L144.8 79.8L143.8 73.4L142.8 67.1L142.1 62.2L141.6 61.2L140.7 60.5L139.7 60.4L138.7 60.9L138.0 61.8ZM158.2 66.2L155.1 70.0L151.1 74.7L147.2 79.5L144.1 83.3L143.6 84.1L143.7 85.1L144.3 85.9L145.1 86.4L146.1 86.3L146.9 85.7L150.2 82.2L154.4 77.6L158.6 73.0L161.8 69.4L162.4 68.3L162.3 67.0L161.6 66.0L160.5 65.4L159.2 65.5Z" transform="translate(1.3 2.7)" fill="#f4b65b" stroke="#f4b65b" stroke-width="0.5" stroke-linejoin="round"/>
<path d="M220.0 43.3L219.5 42.8L218.9 42.1L218.2 41.3L217.3 40.4L216.4 39.4L215.3 38.5L214.1 37.6L212.8 36.9L211.4 36.3L209.9 35.8L208.4 35.3L206.7 34.9L205.1 34.5L203.4 34.2L201.7 34.0L200.0 33.8L198.3 33.7L196.5 33.6L194.8 33.6L193.0 33.7L191.3 33.8L189.5 34.0L187.8 34.2L186.0 34.4L184.3 34.7L182.6 35.1L180.8 35.5L179.1 35.9L177.3 36.4L175.6 37.0L173.9 37.6L172.3 38.3L170.7 39.0L169.2 39.8L167.7 40.7L166.2 41.6L164.8 42.6L163.5 43.6L162.2 44.6L161.0 45.7L159.8 46.9L158.7 48.1L157.7 49.3L156.8 50.5L155.9 51.7L155.1 52.9L154.3 54.1L153.5 55.3L152.7 56.5L151.9 57.7L151.0 58.9L150.1 60.2L149.3 61.5L148.5 62.9L147.7 64.3L147.0 65.9L146.3 67.6L145.7 69.3L145.1 71.2L144.6 73.0L144.1 74.8L143.7 76.5L143.4 78.0L143.1 79.4L142.9 80.6L142.8 81.7L142.7 82.7L142.7 83.7L142.8 84.4L142.8 85.1L142.9 85.6L142.9 86.1L143.0 86.8L143.4 87.4L144.1 87.7L144.8 87.6L145.4 87.2L145.7 86.5L145.8 86.1L146.0 85.5L146.3 84.9L146.5 84.3L146.8 83.5L147.2 82.7L147.5 81.7L147.9 80.6L148.4 79.4L148.8 77.9L149.3 76.3L149.9 74.6L150.4 72.9L151.0 71.2L151.6 69.7L152.2 68.3L152.9 67.0L153.6 65.8L154.3 64.6L155.1 63.5L155.9 62.3L156.7 61.1L157.6 59.9L158.5 58.7L159.3 57.5L160.1 56.3L160.9 55.1L161.7 54.0L162.5 53.0L163.3 52.0L164.1 51.0L165.0 50.1L166.1 49.2L167.2 48.3L168.3 47.4L169.5 46.5L170.8 45.7L172.1 44.9L173.4 44.2L174.7 43.5L176.1 42.9L177.5 42.3L179.0 41.8L180.6 41.3L182.2 40.9L183.8 40.4L185.4 40.1L187.0 39.8L188.5 39.5L190.1 39.3L191.7 39.1L193.4 38.9L195.0 38.8L196.5 38.8L198.1 38.8L199.6 38.8L201.2 38.9L202.7 39.0L204.3 39.2L205.9 39.4L207.4 39.6L208.8 39.9L210.2 40.2L211.4 40.5L212.6 40.8L213.8 41.2L215.0 41.6L216.1 42.1L217.2 42.6L218.2 43.1L219.0 43.5L219.6 43.7L219.8 43.8L219.9 43.8L220.0 43.7L220.1 43.5L220.1 43.4ZM137.9 62.8L138.8 67.8L140.0 74.1L141.1 80.4L142.0 85.3L142.4 86.1L143.2 86.7L144.1 86.8L144.9 86.4L145.5 85.6L145.6 84.7L144.8 79.8L143.8 73.4L142.8 67.1L142.1 62.2L141.6 61.2L140.7 60.5L139.7 60.4L138.7 60.9L138.0 61.8ZM158.2 66.2L155.1 70.0L151.1 74.7L147.2 79.5L144.1 83.3L143.6 84.1L143.7 85.1L144.3 85.9L145.1 86.4L146.1 86.3L146.9 85.7L150.2 82.2L154.4 77.6L158.6 73.0L161.8 69.4L162.4 68.3L162.3 67.0L161.6 66.0L160.5 65.4L159.2 65.5Z" fill="#000"/>
</g>

<g>
<path d="M484.7 99.7L485.2 99.5L486.0 99.2L486.8 99.0L487.8 98.7L488.8 98.3L489.9 98.0L491.0 97.7L492.1 97.4L493.3 97.1L494.6 96.6L495.9 96.2L497.3 95.7L498.8 95.3L500.2 94.9L501.6 94.6L502.9 94.3L504.2 94.1L505.6 94.0L506.9 93.9L508.2 93.9L509.6 93.9L510.9 93.9L512.3 93.9L513.6 94.0L515.0 94.1L516.3 94.2L517.6 94.4L518.9 94.6L520.3 94.8L521.6 95.1L522.9 95.3L524.2 95.6L525.5 96.0L526.9 96.3L528.3 96.7L529.7 97.2L531.1 97.6L532.5 98.1L533.7 98.5L534.9 98.9L536.0 99.3L536.9 99.6L537.6 99.9L538.2 100.2L538.8 100.5L539.3 100.8L540.0 101.1L540.7 101.6L541.6 102.2L542.6 102.9L543.6 103.6L544.7 104.4L545.8 105.3L546.9 106.1L547.9 107.0L548.8 107.8L549.8 108.6L550.6 109.4L551.5 110.3L552.3 111.1L553.2 112.0L554.0 112.8L554.7 113.7L555.5 114.7L556.2 115.6L557.0 116.7L557.7 117.7L558.4 118.9L559.1 120.0L559.9 121.2L560.6 122.4L561.3 123.5L562.0 124.6L562.6 125.6L563.2 126.6L563.8 127.6L564.4 128.6L565.0 129.5L565.5 130.5L566.0 131.5L566.5 132.6L567.1 133.7L567.6 134.9L568.1 136.1L568.5 137.3L569.0 138.5L569.5 139.7L569.9 140.9L570.4 142.1L570.8 143.3L571.2 144.6L571.5 145.8L571.9 147.1L572.3 148.3L572.6 149.4L573.0 150.5L573.3 151.6L573.7 152.7L574.0 153.8L574.4 154.8L574.7 155.8L575.0 156.7L575.2 157.4L575.4 158.0L575.7 158.7L576.3 159.1L577.0 159.2L577.7 158.9L578.1 158.3L578.2 157.6L578.2 157.0L578.2 156.2L578.2 155.3L578.2 154.2L578.2 153.1L578.2 151.9L578.2 150.7L578.0 149.5L577.9 148.3L577.7 147.0L577.5 145.8L577.2 144.4L577.0 143.1L576.7 141.8L576.4 140.4L576.1 139.1L575.7 137.8L575.4 136.5L575.1 135.1L574.7 133.8L574.3 132.4L573.9 131.1L573.5 129.8L573.0 128.5L572.5 127.2L572.0 126.0L571.4 124.9L570.9 123.7L570.3 122.6L569.7 121.5L569.1 120.4L568.5 119.3L567.9 118.1L567.2 116.9L566.5 115.7L565.8 114.4L565.0 113.1L564.2 111.8L563.4 110.6L562.5 109.3L561.6 108.2L560.7 107.1L559.8 106.0L558.8 104.9L557.9 103.9L556.9 102.9L555.8 102.0L554.8 101.0L553.6 100.1L552.4 99.1L551.2 98.2L549.9 97.3L548.7 96.4L547.4 95.6L546.2 94.9L545.1 94.2L544.0 93.6L543.0 93.2L542.0 92.8L541.1 92.5L540.2 92.2L539.3 92.0L538.3 91.8L537.3 91.5L536.1 91.1L534.7 90.8L533.3 90.4L531.8 89.9L530.3 89.5L528.7 89.2L527.1 88.8L525.6 88.6L524.1 88.3L522.6 88.2L521.1 88.0L519.7 87.9L518.2 87.8L516.7 87.8L515.2 87.8L513.8 87.8L512.3 87.8L510.8 87.9L509.4 88.0L507.9 88.1L506.4 88.3L504.9 88.5L503.4 88.8L501.9 89.1L500.3 89.5L498.8 89.9L497.2 90.4L495.7 91.0L494.2 91.5L492.8 92.1L491.5 92.8L490.3 93.4L489.2 94.1L488.2 94.9L487.3 95.8L486.5 96.6L485.8 97.4L485.2 98.1L484.7 98.7L484.3 99.1L484.2 99.3L484.2 99.4L484.2 99.6L484.4 99.7L484.5 99.7ZM556.1 136.0L560.0 140.7L565.0 146.6L570.0 152.6L573.9 157.2L574.8 157.9L575.8 158.0L576.7 157.6L577.4 156.7L577.5 155.7L577.1 154.8L573.4 149.9L568.8 143.7L564.1 137.4L560.5 132.6L559.3 131.7L557.9 131.6L556.6 132.1L555.7 133.3L555.6 134.7ZM583.0 128.7L581.5 134.6L579.6 142.1L577.7 149.6L576.2 155.5L576.2 156.5L576.7 157.3L577.5 157.8L578.5 157.8L579.3 157.3L579.8 156.5L581.5 150.7L583.6 143.2L585.8 135.7L587.4 129.9L587.4 128.7L586.8 127.7L585.8 127.1L584.6 127.1L583.6 127.7Z" transform="translate(-1.6 3.0)" fill="#8ed8ec" stroke="#8ed8ec" stroke-width="7.6" stroke-linejoin="round"/>
<path d="M484.7 99.7L485.2 99.5L486.0 99.2L486.8 99.0L487.8 98.7L488.8 98.3L489.9 98.0L491.0 97.7L492.1 97.4L493.3 97.1L494.6 96.6L495.9 96.2L497.3 95.7L498.8 95.3L500.2 94.9L501.6 94.6L502.9 94.3L504.2 94.1L505.6 94.0L506.9 93.9L508.2 93.9L509.6 93.9L510.9 93.9L512.3 93.9L513.6 94.0L515.0 94.1L516.3 94.2L517.6 94.4L518.9 94.6L520.3 94.8L521.6 95.1L522.9 95.3L524.2 95.6L525.5 96.0L526.9 96.3L528.3 96.7L529.7 97.2L531.1 97.6L532.5 98.1L533.7 98.5L534.9 98.9L536.0 99.3L536.9 99.6L537.6 99.9L538.2 100.2L538.8 100.5L539.3 100.8L540.0 101.1L540.7 101.6L541.6 102.2L542.6 102.9L543.6 103.6L544.7 104.4L545.8 105.3L546.9 106.1L547.9 107.0L548.8 107.8L549.8 108.6L550.6 109.4L551.5 110.3L552.3 111.1L553.2 112.0L554.0 112.8L554.7 113.7L555.5 114.7L556.2 115.6L557.0 116.7L557.7 117.7L558.4 118.9L559.1 120.0L559.9 121.2L560.6 122.4L561.3 123.5L562.0 124.6L562.6 125.6L563.2 126.6L563.8 127.6L564.4 128.6L565.0 129.5L565.5 130.5L566.0 131.5L566.5 132.6L567.1 133.7L567.6 134.9L568.1 136.1L568.5 137.3L569.0 138.5L569.5 139.7L569.9 140.9L570.4 142.1L570.8 143.3L571.2 144.6L571.5 145.8L571.9 147.1L572.3 148.3L572.6 149.4L573.0 150.5L573.3 151.6L573.7 152.7L574.0 153.8L574.4 154.8L574.7 155.8L575.0 156.7L575.2 157.4L575.4 158.0L575.7 158.7L576.3 159.1L577.0 159.2L577.7 158.9L578.1 158.3L578.2 157.6L578.2 157.0L578.2 156.2L578.2 155.3L578.2 154.2L578.2 153.1L578.2 151.9L578.2 150.7L578.0 149.5L577.9 148.3L577.7 147.0L577.5 145.8L577.2 144.4L577.0 143.1L576.7 141.8L576.4 140.4L576.1 139.1L575.7 137.8L575.4 136.5L575.1 135.1L574.7 133.8L574.3 132.4L573.9 131.1L573.5 129.8L573.0 128.5L572.5 127.2L572.0 126.0L571.4 124.9L570.9 123.7L570.3 122.6L569.7 121.5L569.1 120.4L568.5 119.3L567.9 118.1L567.2 116.9L566.5 115.7L565.8 114.4L565.0 113.1L564.2 111.8L563.4 110.6L562.5 109.3L561.6 108.2L560.7 107.1L559.8 106.0L558.8 104.9L557.9 103.9L556.9 102.9L555.8 102.0L554.8 101.0L553.6 100.1L552.4 99.1L551.2 98.2L549.9 97.3L548.7 96.4L547.4 95.6L546.2 94.9L545.1 94.2L544.0 93.6L543.0 93.2L542.0 92.8L541.1 92.5L540.2 92.2L539.3 92.0L538.3 91.8L537.3 91.5L536.1 91.1L534.7 90.8L533.3 90.4L531.8 89.9L530.3 89.5L528.7 89.2L527.1 88.8L525.6 88.6L524.1 88.3L522.6 88.2L521.1 88.0L519.7 87.9L518.2 87.8L516.7 87.8L515.2 87.8L513.8 87.8L512.3 87.8L510.8 87.9L509.4 88.0L507.9 88.1L506.4 88.3L504.9 88.5L503.4 88.8L501.9 89.1L500.3 89.5L498.8 89.9L497.2 90.4L495.7 91.0L494.2 91.5L492.8 92.1L491.5 92.8L490.3 93.4L489.2 94.1L488.2 94.9L487.3 95.8L486.5 96.6L485.8 97.4L485.2 98.1L484.7 98.7L484.3 99.1L484.2 99.3L484.2 99.4L484.2 99.6L484.4 99.7L484.5 99.7ZM556.1 136.0L560.0 140.7L565.0 146.6L570.0 152.6L573.9 157.2L574.8 157.9L575.8 158.0L576.7 157.6L577.4 156.7L577.5 155.7L577.1 154.8L573.4 149.9L568.8 143.7L564.1 137.4L560.5 132.6L559.3 131.7L557.9 131.6L556.6 132.1L555.7 133.3L555.6 134.7ZM583.0 128.7L581.5 134.6L579.6 142.1L577.7 149.6L576.2 155.5L576.2 156.5L576.7 157.3L577.5 157.8L578.5 157.8L579.3 157.3L579.8 156.5L581.5 150.7L583.6 143.2L585.8 135.7L587.4 129.9L587.4 128.7L586.8 127.7L585.8 127.1L584.6 127.1L583.6 127.7Z" fill="#8ed8ec" stroke="#8ed8ec" stroke-width="6.2" stroke-linejoin="round"/>
<path d="M484.7 99.7L485.2 99.5L486.0 99.2L486.8 99.0L487.8 98.7L488.8 98.3L489.9 98.0L491.0 97.7L492.1 97.4L493.3 97.1L494.6 96.6L495.9 96.2L497.3 95.7L498.8 95.3L500.2 94.9L501.6 94.6L502.9 94.3L504.2 94.1L505.6 94.0L506.9 93.9L508.2 93.9L509.6 93.9L510.9 93.9L512.3 93.9L513.6 94.0L515.0 94.1L516.3 94.2L517.6 94.4L518.9 94.6L520.3 94.8L521.6 95.1L522.9 95.3L524.2 95.6L525.5 96.0L526.9 96.3L528.3 96.7L529.7 97.2L531.1 97.6L532.5 98.1L533.7 98.5L534.9 98.9L536.0 99.3L536.9 99.6L537.6 99.9L538.2 100.2L538.8 100.5L539.3 100.8L540.0 101.1L540.7 101.6L541.6 102.2L542.6 102.9L543.6 103.6L544.7 104.4L545.8 105.3L546.9 106.1L547.9 107.0L548.8 107.8L549.8 108.6L550.6 109.4L551.5 110.3L552.3 111.1L553.2 112.0L554.0 112.8L554.7 113.7L555.5 114.7L556.2 115.6L557.0 116.7L557.7 117.7L558.4 118.9L559.1 120.0L559.9 121.2L560.6 122.4L561.3 123.5L562.0 124.6L562.6 125.6L563.2 126.6L563.8 127.6L564.4 128.6L565.0 129.5L565.5 130.5L566.0 131.5L566.5 132.6L567.1 133.7L567.6 134.9L568.1 136.1L568.5 137.3L569.0 138.5L569.5 139.7L569.9 140.9L570.4 142.1L570.8 143.3L571.2 144.6L571.5 145.8L571.9 147.1L572.3 148.3L572.6 149.4L573.0 150.5L573.3 151.6L573.7 152.7L574.0 153.8L574.4 154.8L574.7 155.8L575.0 156.7L575.2 157.4L575.4 158.0L575.7 158.7L576.3 159.1L577.0 159.2L577.7 158.9L578.1 158.3L578.2 157.6L578.2 157.0L578.2 156.2L578.2 155.3L578.2 154.2L578.2 153.1L578.2 151.9L578.2 150.7L578.0 149.5L577.9 148.3L577.7 147.0L577.5 145.8L577.2 144.4L577.0 143.1L576.7 141.8L576.4 140.4L576.1 139.1L575.7 137.8L575.4 136.5L575.1 135.1L574.7 133.8L574.3 132.4L573.9 131.1L573.5 129.8L573.0 128.5L572.5 127.2L572.0 126.0L571.4 124.9L570.9 123.7L570.3 122.6L569.7 121.5L569.1 120.4L568.5 119.3L567.9 118.1L567.2 116.9L566.5 115.7L565.8 114.4L565.0 113.1L564.2 111.8L563.4 110.6L562.5 109.3L561.6 108.2L560.7 107.1L559.8 106.0L558.8 104.9L557.9 103.9L556.9 102.9L555.8 102.0L554.8 101.0L553.6 100.1L552.4 99.1L551.2 98.2L549.9 97.3L548.7 96.4L547.4 95.6L546.2 94.9L545.1 94.2L544.0 93.6L543.0 93.2L542.0 92.8L541.1 92.5L540.2 92.2L539.3 92.0L538.3 91.8L537.3 91.5L536.1 91.1L534.7 90.8L533.3 90.4L531.8 89.9L530.3 89.5L528.7 89.2L527.1 88.8L525.6 88.6L524.1 88.3L522.6 88.2L521.1 88.0L519.7 87.9L518.2 87.8L516.7 87.8L515.2 87.8L513.8 87.8L512.3 87.8L510.8 87.9L509.4 88.0L507.9 88.1L506.4 88.3L504.9 88.5L503.4 88.8L501.9 89.1L500.3 89.5L498.8 89.9L497.2 90.4L495.7 91.0L494.2 91.5L492.8 92.1L491.5 92.8L490.3 93.4L489.2 94.1L488.2 94.9L487.3 95.8L486.5 96.6L485.8 97.4L485.2 98.1L484.7 98.7L484.3 99.1L484.2 99.3L484.2 99.4L484.2 99.6L484.4 99.7L484.5 99.7ZM556.1 136.0L560.0 140.7L565.0 146.6L570.0 152.6L573.9 157.2L574.8 157.9L575.8 158.0L576.7 157.6L577.4 156.7L577.5 155.7L577.1 154.8L573.4 149.9L568.8 143.7L564.1 137.4L560.5 132.6L559.3 131.7L557.9 131.6L556.6 132.1L555.7 133.3L555.6 134.7ZM583.0 128.7L581.5 134.6L579.6 142.1L577.7 149.6L576.2 155.5L576.2 156.5L576.7 157.3L577.5 157.8L578.5 157.8L579.3 157.3L579.8 156.5L581.5 150.7L583.6 143.2L585.8 135.7L587.4 129.9L587.4 128.7L586.8 127.7L585.8 127.1L584.6 127.1L583.6 127.7Z" transform="translate(-1.6 3.0)" fill="#f4b65b" stroke="#f4b65b" stroke-width="0.5" stroke-linejoin="round"/>
<path d="M484.7 99.7L485.2 99.5L486.0 99.2L486.8 99.0L487.8 98.7L488.8 98.3L489.9 98.0L491.0 97.7L492.1 97.4L493.3 97.1L494.6 96.6L495.9 96.2L497.3 95.7L498.8 95.3L500.2 94.9L501.6 94.6L502.9 94.3L504.2 94.1L505.6 94.0L506.9 93.9L508.2 93.9L509.6 93.9L510.9 93.9L512.3 93.9L513.6 94.0L515.0 94.1L516.3 94.2L517.6 94.4L518.9 94.6L520.3 94.8L521.6 95.1L522.9 95.3L524.2 95.6L525.5 96.0L526.9 96.3L528.3 96.7L529.7 97.2L531.1 97.6L532.5 98.1L533.7 98.5L534.9 98.9L536.0 99.3L536.9 99.6L537.6 99.9L538.2 100.2L538.8 100.5L539.3 100.8L540.0 101.1L540.7 101.6L541.6 102.2L542.6 102.9L543.6 103.6L544.7 104.4L545.8 105.3L546.9 106.1L547.9 107.0L548.8 107.8L549.8 108.6L550.6 109.4L551.5 110.3L552.3 111.1L553.2 112.0L554.0 112.8L554.7 113.7L555.5 114.7L556.2 115.6L557.0 116.7L557.7 117.7L558.4 118.9L559.1 120.0L559.9 121.2L560.6 122.4L561.3 123.5L562.0 124.6L562.6 125.6L563.2 126.6L563.8 127.6L564.4 128.6L565.0 129.5L565.5 130.5L566.0 131.5L566.5 132.6L567.1 133.7L567.6 134.9L568.1 136.1L568.5 137.3L569.0 138.5L569.5 139.7L569.9 140.9L570.4 142.1L570.8 143.3L571.2 144.6L571.5 145.8L571.9 147.1L572.3 148.3L572.6 149.4L573.0 150.5L573.3 151.6L573.7 152.7L574.0 153.8L574.4 154.8L574.7 155.8L575.0 156.7L575.2 157.4L575.4 158.0L575.7 158.7L576.3 159.1L577.0 159.2L577.7 158.9L578.1 158.3L578.2 157.6L578.2 157.0L578.2 156.2L578.2 155.3L578.2 154.2L578.2 153.1L578.2 151.9L578.2 150.7L578.0 149.5L577.9 148.3L577.7 147.0L577.5 145.8L577.2 144.4L577.0 143.1L576.7 141.8L576.4 140.4L576.1 139.1L575.7 137.8L575.4 136.5L575.1 135.1L574.7 133.8L574.3 132.4L573.9 131.1L573.5 129.8L573.0 128.5L572.5 127.2L572.0 126.0L571.4 124.9L570.9 123.7L570.3 122.6L569.7 121.5L569.1 120.4L568.5 119.3L567.9 118.1L567.2 116.9L566.5 115.7L565.8 114.4L565.0 113.1L564.2 111.8L563.4 110.6L562.5 109.3L561.6 108.2L560.7 107.1L559.8 106.0L558.8 104.9L557.9 103.9L556.9 102.9L555.8 102.0L554.8 101.0L553.6 100.1L552.4 99.1L551.2 98.2L549.9 97.3L548.7 96.4L547.4 95.6L546.2 94.9L545.1 94.2L544.0 93.6L543.0 93.2L542.0 92.8L541.1 92.5L540.2 92.2L539.3 92.0L538.3 91.8L537.3 91.5L536.1 91.1L534.7 90.8L533.3 90.4L531.8 89.9L530.3 89.5L528.7 89.2L527.1 88.8L525.6 88.6L524.1 88.3L522.6 88.2L521.1 88.0L519.7 87.9L518.2 87.8L516.7 87.8L515.2 87.8L513.8 87.8L512.3 87.8L510.8 87.9L509.4 88.0L507.9 88.1L506.4 88.3L504.9 88.5L503.4 88.8L501.9 89.1L500.3 89.5L498.8 89.9L497.2 90.4L495.7 91.0L494.2 91.5L492.8 92.1L491.5 92.8L490.3 93.4L489.2 94.1L488.2 94.9L487.3 95.8L486.5 96.6L485.8 97.4L485.2 98.1L484.7 98.7L484.3 99.1L484.2 99.3L484.2 99.4L484.2 99.6L484.4 99.7L484.5 99.7ZM556.1 136.0L560.0 140.7L565.0 146.6L570.0 152.6L573.9 157.2L574.8 157.9L575.8 158.0L576.7 157.6L577.4 156.7L577.5 155.7L577.1 154.8L573.4 149.9L568.8 143.7L564.1 137.4L560.5 132.6L559.3 131.7L557.9 131.6L556.6 132.1L555.7 133.3L555.6 134.7ZM583.0 128.7L581.5 134.6L579.6 142.1L577.7 149.6L576.2 155.5L576.2 156.5L576.7 157.3L577.5 157.8L578.5 157.8L579.3 157.3L579.8 156.5L581.5 150.7L583.6 143.2L585.8 135.7L587.4 129.9L587.4 128.7L586.8 127.7L585.8 127.1L584.6 127.1L583.6 127.7Z" fill="#000"/>
</g>

<g>
<path d="M286.3 194.6L285.8 194.3L285.2 193.9L284.4 193.3L283.6 192.7L282.6 192.1L281.6 191.5L280.5 191.0L279.3 190.5L278.2 190.2L277.0 189.9L275.7 189.7L274.4 189.5L273.1 189.4L271.7 189.3L270.3 189.2L268.8 189.2L267.2 189.2L265.6 189.3L263.9 189.5L262.2 189.6L260.5 189.9L258.8 190.2L257.1 190.5L255.5 190.9L254.0 191.4L252.5 192.0L251.0 192.7L249.7 193.4L248.3 194.1L247.1 194.8L245.8 195.5L244.6 196.3L243.4 197.0L242.2 197.7L241.1 198.5L240.0 199.2L238.9 200.0L237.9 200.9L236.9 201.7L235.9 202.6L235.0 203.5L234.1 204.5L233.3 205.4L232.6 206.4L231.9 207.3L231.2 208.3L230.6 209.2L230.0 210.2L229.4 211.2L228.9 212.2L228.3 213.2L227.8 214.2L227.3 215.3L226.9 216.3L226.4 217.3L226.0 218.3L225.6 219.3L225.2 220.4L224.9 221.4L224.5 222.4L224.2 223.4L223.9 224.5L223.6 225.5L223.4 226.6L223.1 227.7L222.9 228.9L222.7 230.0L222.5 231.2L222.3 232.4L222.2 233.5L222.0 234.6L221.9 235.6L221.8 236.7L221.8 237.6L221.7 238.6L221.7 239.5L221.7 240.4L221.7 241.3L221.8 242.1L221.8 242.9L221.8 243.7L221.9 244.5L222.0 245.3L222.1 246.0L222.2 246.7L222.3 247.3L222.3 247.9L222.4 248.3L222.6 249.0L223.1 249.5L223.8 249.7L224.5 249.5L225.0 249.0L225.2 248.3L225.3 247.9L225.4 247.4L225.5 246.8L225.6 246.1L225.8 245.4L225.9 244.7L226.1 243.9L226.2 243.1L226.3 242.4L226.4 241.6L226.6 240.7L226.7 239.9L226.8 239.0L227.0 238.2L227.1 237.3L227.3 236.4L227.5 235.4L227.7 234.4L227.9 233.3L228.1 232.2L228.3 231.1L228.5 230.0L228.8 229.0L229.0 228.0L229.3 227.0L229.5 226.0L229.8 225.1L230.1 224.2L230.4 223.2L230.7 222.3L231.0 221.4L231.4 220.5L231.8 219.6L232.2 218.6L232.6 217.7L233.0 216.8L233.5 215.9L234.0 215.0L234.5 214.1L235.0 213.2L235.5 212.3L236.1 211.4L236.6 210.5L237.2 209.6L237.8 208.8L238.4 208.0L239.0 207.2L239.7 206.4L240.5 205.6L241.3 204.9L242.2 204.1L243.1 203.4L244.0 202.6L245.0 201.9L246.1 201.2L247.2 200.5L248.3 199.9L249.5 199.2L250.7 198.6L252.0 198.0L253.2 197.4L254.5 196.9L255.8 196.4L257.1 195.9L258.5 195.4L259.9 195.0L261.5 194.5L263.0 194.1L264.6 193.8L266.1 193.5L267.6 193.2L269.0 193.0L270.3 192.9L271.6 192.8L272.9 192.8L274.1 192.8L275.3 192.9L276.5 193.0L277.6 193.1L278.7 193.3L279.7 193.4L280.8 193.6L281.8 193.9L282.9 194.2L283.9 194.5L284.7 194.8L285.5 195.0L286.1 195.2L286.2 195.2L286.4 195.1L286.5 195.0L286.5 194.9L286.4 194.7ZM213.6 228.9L215.4 232.9L217.7 238.0L220.0 243.2L221.8 247.2L222.4 247.9L223.3 248.3L224.2 248.2L224.9 247.6L225.3 246.7L225.2 245.8L223.5 241.7L221.4 236.5L219.3 231.2L217.6 227.1L216.9 226.2L215.9 225.8L214.7 226.0L213.8 226.7L213.4 227.7ZM233.5 227.3L231.3 231.3L228.5 236.5L225.6 241.6L223.4 245.6L223.2 246.5L223.4 247.4L224.1 248.1L225.0 248.3L225.9 248.1L226.6 247.4L228.9 243.5L232.0 238.5L235.1 233.5L237.5 229.7L237.8 228.5L237.5 227.4L236.7 226.5L235.5 226.2L234.4 226.5Z" transform="translate(1.2 2.5)" fill="#8ed8ec" stroke="#8ed8ec" stroke-width="7.0" stroke-linejoin="round"/>
<path d="M286.3 194.6L285.8 194.3L285.2 193.9L284.4 193.3L283.6 192.7L282.6 192.1L281.6 191.5L280.5 191.0L279.3 190.5L278.2 190.2L277.0 189.9L275.7 189.7L274.4 189.5L273.1 189.4L271.7 189.3L270.3 189.2L268.8 189.2L267.2 189.2L265.6 189.3L263.9 189.5L262.2 189.6L260.5 189.9L258.8 190.2L257.1 190.5L255.5 190.9L254.0 191.4L252.5 192.0L251.0 192.7L249.7 193.4L248.3 194.1L247.1 194.8L245.8 195.5L244.6 196.3L243.4 197.0L242.2 197.7L241.1 198.5L240.0 199.2L238.9 200.0L237.9 200.9L236.9 201.7L235.9 202.6L235.0 203.5L234.1 204.5L233.3 205.4L232.6 206.4L231.9 207.3L231.2 208.3L230.6 209.2L230.0 210.2L229.4 211.2L228.9 212.2L228.3 213.2L227.8 214.2L227.3 215.3L226.9 216.3L226.4 217.3L226.0 218.3L225.6 219.3L225.2 220.4L224.9 221.4L224.5 222.4L224.2 223.4L223.9 224.5L223.6 225.5L223.4 226.6L223.1 227.7L222.9 228.9L222.7 230.0L222.5 231.2L222.3 232.4L222.2 233.5L222.0 234.6L221.9 235.6L221.8 236.7L221.8 237.6L221.7 238.6L221.7 239.5L221.7 240.4L221.7 241.3L221.8 242.1L221.8 242.9L221.8 243.7L221.9 244.5L222.0 245.3L222.1 246.0L222.2 246.7L222.3 247.3L222.3 247.9L222.4 248.3L222.6 249.0L223.1 249.5L223.8 249.7L224.5 249.5L225.0 249.0L225.2 248.3L225.3 247.9L225.4 247.4L225.5 246.8L225.6 246.1L225.8 245.4L225.9 244.7L226.1 243.9L226.2 243.1L226.3 242.4L226.4 241.6L226.6 240.7L226.7 239.9L226.8 239.0L227.0 238.2L227.1 237.3L227.3 236.4L227.5 235.4L227.7 234.4L227.9 233.3L228.1 232.2L228.3 231.1L228.5 230.0L228.8 229.0L229.0 228.0L229.3 227.0L229.5 226.0L229.8 225.1L230.1 224.2L230.4 223.2L230.7 222.3L231.0 221.4L231.4 220.5L231.8 219.6L232.2 218.6L232.6 217.7L233.0 216.8L233.5 215.9L234.0 215.0L234.5 214.1L235.0 213.2L235.5 212.3L236.1 211.4L236.6 210.5L237.2 209.6L237.8 208.8L238.4 208.0L239.0 207.2L239.7 206.4L240.5 205.6L241.3 204.9L242.2 204.1L243.1 203.4L244.0 202.6L245.0 201.9L246.1 201.2L247.2 200.5L248.3 199.9L249.5 199.2L250.7 198.6L252.0 198.0L253.2 197.4L254.5 196.9L255.8 196.4L257.1 195.9L258.5 195.4L259.9 195.0L261.5 194.5L263.0 194.1L264.6 193.8L266.1 193.5L267.6 193.2L269.0 193.0L270.3 192.9L271.6 192.8L272.9 192.8L274.1 192.8L275.3 192.9L276.5 193.0L277.6 193.1L278.7 193.3L279.7 193.4L280.8 193.6L281.8 193.9L282.9 194.2L283.9 194.5L284.7 194.8L285.5 195.0L286.1 195.2L286.2 195.2L286.4 195.1L286.5 195.0L286.5 194.9L286.4 194.7ZM213.6 228.9L215.4 232.9L217.7 238.0L220.0 243.2L221.8 247.2L222.4 247.9L223.3 248.3L224.2 248.2L224.9 247.6L225.3 246.7L225.2 245.8L223.5 241.7L221.4 236.5L219.3 231.2L217.6 227.1L216.9 226.2L215.9 225.8L214.7 226.0L213.8 226.7L213.4 227.7ZM233.5 227.3L231.3 231.3L228.5 236.5L225.6 241.6L223.4 245.6L223.2 246.5L223.4 247.4L224.1 248.1L225.0 248.3L225.9 248.1L226.6 247.4L228.9 243.5L232.0 238.5L235.1 233.5L237.5 229.7L237.8 228.5L237.5 227.4L236.7 226.5L235.5 226.2L234.4 226.5Z" fill="#8ed8ec" stroke="#8ed8ec" stroke-width="5.6" stroke-linejoin="round"/>
<path d="M286.3 194.6L285.8 194.3L285.2 193.9L284.4 193.3L283.6 192.7L282.6 192.1L281.6 191.5L280.5 191.0L279.3 190.5L278.2 190.2L277.0 189.9L275.7 189.7L274.4 189.5L273.1 189.4L271.7 189.3L270.3 189.2L268.8 189.2L267.2 189.2L265.6 189.3L263.9 189.5L262.2 189.6L260.5 189.9L258.8 190.2L257.1 190.5L255.5 190.9L254.0 191.4L252.5 192.0L251.0 192.7L249.7 193.4L248.3 194.1L247.1 194.8L245.8 195.5L244.6 196.3L243.4 197.0L242.2 197.7L241.1 198.5L240.0 199.2L238.9 200.0L237.9 200.9L236.9 201.7L235.9 202.6L235.0 203.5L234.1 204.5L233.3 205.4L232.6 206.4L231.9 207.3L231.2 208.3L230.6 209.2L230.0 210.2L229.4 211.2L228.9 212.2L228.3 213.2L227.8 214.2L227.3 215.3L226.9 216.3L226.4 217.3L226.0 218.3L225.6 219.3L225.2 220.4L224.9 221.4L224.5 222.4L224.2 223.4L223.9 224.5L223.6 225.5L223.4 226.6L223.1 227.7L222.9 228.9L222.7 230.0L222.5 231.2L222.3 232.4L222.2 233.5L222.0 234.6L221.9 235.6L221.8 236.7L221.8 237.6L221.7 238.6L221.7 239.5L221.7 240.4L221.7 241.3L221.8 242.1L221.8 242.9L221.8 243.7L221.9 244.5L222.0 245.3L222.1 246.0L222.2 246.7L222.3 247.3L222.3 247.9L222.4 248.3L222.6 249.0L223.1 249.5L223.8 249.7L224.5 249.5L225.0 249.0L225.2 248.3L225.3 247.9L225.4 247.4L225.5 246.8L225.6 246.1L225.8 245.4L225.9 244.7L226.1 243.9L226.2 243.1L226.3 242.4L226.4 241.6L226.6 240.7L226.7 239.9L226.8 239.0L227.0 238.2L227.1 237.3L227.3 236.4L227.5 235.4L227.7 234.4L227.9 233.3L228.1 232.2L228.3 231.1L228.5 230.0L228.8 229.0L229.0 228.0L229.3 227.0L229.5 226.0L229.8 225.1L230.1 224.2L230.4 223.2L230.7 222.3L231.0 221.4L231.4 220.5L231.8 219.6L232.2 218.6L232.6 217.7L233.0 216.8L233.5 215.9L234.0 215.0L234.5 214.1L235.0 213.2L235.5 212.3L236.1 211.4L236.6 210.5L237.2 209.6L237.8 208.8L238.4 208.0L239.0 207.2L239.7 206.4L240.5 205.6L241.3 204.9L242.2 204.1L243.1 203.4L244.0 202.6L245.0 201.9L246.1 201.2L247.2 200.5L248.3 199.9L249.5 199.2L250.7 198.6L252.0 198.0L253.2 197.4L254.5 196.9L255.8 196.4L257.1 195.9L258.5 195.4L259.9 195.0L261.5 194.5L263.0 194.1L264.6 193.8L266.1 193.5L267.6 193.2L269.0 193.0L270.3 192.9L271.6 192.8L272.9 192.8L274.1 192.8L275.3 192.9L276.5 193.0L277.6 193.1L278.7 193.3L279.7 193.4L280.8 193.6L281.8 193.9L282.9 194.2L283.9 194.5L284.7 194.8L285.5 195.0L286.1 195.2L286.2 195.2L286.4 195.1L286.5 195.0L286.5 194.9L286.4 194.7ZM213.6 228.9L215.4 232.9L217.7 238.0L220.0 243.2L221.8 247.2L222.4 247.9L223.3 248.3L224.2 248.2L224.9 247.6L225.3 246.7L225.2 245.8L223.5 241.7L221.4 236.5L219.3 231.2L217.6 227.1L216.9 226.2L215.9 225.8L214.7 226.0L213.8 226.7L213.4 227.7ZM233.5 227.3L231.3 231.3L228.5 236.5L225.6 241.6L223.4 245.6L223.2 246.5L223.4 247.4L224.1 248.1L225.0 248.3L225.9 248.1L226.6 247.4L228.9 243.5L232.0 238.5L235.1 233.5L237.5 229.7L237.8 228.5L237.5 227.4L236.7 226.5L235.5 226.2L234.4 226.5Z" transform="translate(1.2 2.5)" fill="#f4b65b" stroke="#f4b65b" stroke-width="0.5" stroke-linejoin="round"/>
<path d="M286.3 194.6L285.8 194.3L285.2 193.9L284.4 193.3L283.6 192.7L282.6 192.1L281.6 191.5L280.5 191.0L279.3 190.5L278.2 190.2L277.0 189.9L275.7 189.7L274.4 189.5L273.1 189.4L271.7 189.3L270.3 189.2L268.8 189.2L267.2 189.2L265.6 189.3L263.9 189.5L262.2 189.6L260.5 189.9L258.8 190.2L257.1 190.5L255.5 190.9L254.0 191.4L252.5 192.0L251.0 192.7L249.7 193.4L248.3 194.1L247.1 194.8L245.8 195.5L244.6 196.3L243.4 197.0L242.2 197.7L241.1 198.5L240.0 199.2L238.9 200.0L237.9 200.9L236.9 201.7L235.9 202.6L235.0 203.5L234.1 204.5L233.3 205.4L232.6 206.4L231.9 207.3L231.2 208.3L230.6 209.2L230.0 210.2L229.4 211.2L228.9 212.2L228.3 213.2L227.8 214.2L227.3 215.3L226.9 216.3L226.4 217.3L226.0 218.3L225.6 219.3L225.2 220.4L224.9 221.4L224.5 222.4L224.2 223.4L223.9 224.5L223.6 225.5L223.4 226.6L223.1 227.7L222.9 228.9L222.7 230.0L222.5 231.2L222.3 232.4L222.2 233.5L222.0 234.6L221.9 235.6L221.8 236.7L221.8 237.6L221.7 238.6L221.7 239.5L221.7 240.4L221.7 241.3L221.8 242.1L221.8 242.9L221.8 243.7L221.9 244.5L222.0 245.3L222.1 246.0L222.2 246.7L222.3 247.3L222.3 247.9L222.4 248.3L222.6 249.0L223.1 249.5L223.8 249.7L224.5 249.5L225.0 249.0L225.2 248.3L225.3 247.9L225.4 247.4L225.5 246.8L225.6 246.1L225.8 245.4L225.9 244.7L226.1 243.9L226.2 243.1L226.3 242.4L226.4 241.6L226.6 240.7L226.7 239.9L226.8 239.0L227.0 238.2L227.1 237.3L227.3 236.4L227.5 235.4L227.7 234.4L227.9 233.3L228.1 232.2L228.3 231.1L228.5 230.0L228.8 229.0L229.0 228.0L229.3 227.0L229.5 226.0L229.8 225.1L230.1 224.2L230.4 223.2L230.7 222.3L231.0 221.4L231.4 220.5L231.8 219.6L232.2 218.6L232.6 217.7L233.0 216.8L233.5 215.9L234.0 215.0L234.5 214.1L235.0 213.2L235.5 212.3L236.1 211.4L236.6 210.5L237.2 209.6L237.8 208.8L238.4 208.0L239.0 207.2L239.7 206.4L240.5 205.6L241.3 204.9L242.2 204.1L243.1 203.4L244.0 202.6L245.0 201.9L246.1 201.2L247.2 200.5L248.3 199.9L249.5 199.2L250.7 198.6L252.0 198.0L253.2 197.4L254.5 196.9L255.8 196.4L257.1 195.9L258.5 195.4L259.9 195.0L261.5 194.5L263.0 194.1L264.6 193.8L266.1 193.5L267.6 193.2L269.0 193.0L270.3 192.9L271.6 192.8L272.9 192.8L274.1 192.8L275.3 192.9L276.5 193.0L277.6 193.1L278.7 193.3L279.7 193.4L280.8 193.6L281.8 193.9L282.9 194.2L283.9 194.5L284.7 194.8L285.5 195.0L286.1 195.2L286.2 195.2L286.4 195.1L286.5 195.0L286.5 194.9L286.4 194.7ZM213.6 228.9L215.4 232.9L217.7 238.0L220.0 243.2L221.8 247.2L222.4 247.9L223.3 248.3L224.2 248.2L224.9 247.6L225.3 246.7L225.2 245.8L223.5 241.7L221.4 236.5L219.3 231.2L217.6 227.1L216.9 226.2L215.9 225.8L214.7 226.0L213.8 226.7L213.4 227.7ZM233.5 227.3L231.3 231.3L228.5 236.5L225.6 241.6L223.4 245.6L223.2 246.5L223.4 247.4L224.1 248.1L225.0 248.3L225.9 248.1L226.6 247.4L228.9 243.5L232.0 238.5L235.1 233.5L237.5 229.7L237.8 228.5L237.5 227.4L236.7 226.5L235.5 226.2L234.4 226.5Z" fill="#000"/>
</g>

<g>
<path d="M402.9 218.9L403.7 219.0L404.9 219.2L406.2 219.3L407.6 219.6L409.1 219.8L410.6 220.1L412.1 220.5L413.4 221.0L414.7 221.6L416.2 222.3L417.7 223.2L419.2 224.0L420.7 224.9L422.2 225.9L423.5 226.8L424.6 227.7L425.6 228.5L426.4 229.3L427.2 230.1L427.9 231.0L428.7 231.9L429.4 232.9L430.2 233.9L431.1 235.0L432.0 236.1L432.8 237.1L433.7 238.2L434.5 239.3L435.4 240.3L436.1 241.4L436.8 242.4L437.5 243.4L438.1 244.4L438.6 245.4L439.1 246.4L439.6 247.5L440.1 248.5L440.5 249.5L440.9 250.6L441.3 251.6L441.6 252.6L441.9 253.7L442.2 254.7L442.4 255.7L442.7 256.8L442.9 257.8L443.1 258.9L443.2 259.9L443.4 261.0L443.5 262.0L443.6 263.0L443.7 264.0L443.7 265.0L443.7 266.0L443.7 267.1L443.7 268.1L443.6 269.2L443.6 270.4L443.4 271.6L443.3 272.7L443.1 273.9L442.9 275.1L442.7 276.2L442.4 277.4L442.1 278.5L441.7 279.7L441.2 281.0L440.7 282.3L440.2 283.5L439.7 284.8L439.2 285.9L438.8 286.9L438.5 287.9L438.2 288.7L437.9 289.5L437.6 290.3L437.4 291.0L437.2 291.6L437.0 292.2L436.8 292.6L436.6 293.3L436.8 294.0L437.3 294.5L438.0 294.7L438.7 294.5L439.2 294.0L439.5 293.7L439.9 293.3L440.3 292.8L440.8 292.2L441.4 291.6L442.0 290.8L442.6 290.0L443.2 289.1L443.7 288.1L444.3 287.0L445.0 285.8L445.6 284.5L446.3 283.2L446.9 281.8L447.5 280.4L448.0 279.0L448.4 277.7L448.7 276.3L449.0 275.0L449.3 273.6L449.5 272.3L449.7 271.0L449.8 269.7L449.9 268.5L450.0 267.2L450.0 266.0L449.9 264.8L449.9 263.6L449.8 262.5L449.7 261.3L449.5 260.2L449.4 259.1L449.2 257.9L449.0 256.8L448.8 255.6L448.6 254.4L448.3 253.2L448.1 252.0L447.7 250.8L447.3 249.6L446.9 248.4L446.5 247.2L446.0 246.0L445.5 244.8L444.9 243.6L444.3 242.4L443.6 241.2L442.9 240.0L442.1 238.8L441.3 237.6L440.4 236.5L439.5 235.3L438.6 234.2L437.7 233.1L436.8 232.0L435.9 231.0L435.1 230.0L434.3 229.0L433.5 228.0L432.6 227.0L431.6 225.9L430.6 224.9L429.3 223.9L428.0 222.9L426.5 222.1L424.9 221.2L423.2 220.4L421.4 219.6L419.6 218.9L417.9 218.3L416.1 217.7L414.4 217.4L412.7 217.2L410.9 217.2L409.2 217.3L407.6 217.5L406.1 217.7L404.8 218.0L403.7 218.2L402.9 218.3L402.8 218.3L402.6 218.4L402.6 218.6L402.6 218.7L402.7 218.9ZM433.7 270.3L434.3 274.9L435.2 280.7L436.0 286.6L436.6 291.2L437.0 292.1L437.8 292.7L438.7 292.9L439.6 292.5L440.2 291.7L440.4 290.8L439.9 286.2L439.3 280.3L438.7 274.3L438.3 269.7L437.8 268.6L436.9 267.9L435.7 267.7L434.6 268.2L433.9 269.1ZM452.7 274.7L449.7 278.0L445.7 282.2L441.7 286.4L438.7 289.7L438.2 290.5L438.2 291.5L438.7 292.3L439.5 292.8L440.5 292.8L441.3 292.3L444.6 289.3L448.8 285.3L453.0 281.3L456.3 278.3L456.9 277.1L456.9 275.9L456.3 274.7L455.1 274.1L453.9 274.1Z" transform="translate(-2.3 1.4)" fill="#8ed8ec" stroke="#8ed8ec" stroke-width="7.0" stroke-linejoin="round"/>
<path d="M402.9 218.9L403.7 219.0L404.9 219.2L406.2 219.3L407.6 219.6L409.1 219.8L410.6 220.1L412.1 220.5L413.4 221.0L414.7 221.6L416.2 222.3L417.7 223.2L419.2 224.0L420.7 224.9L422.2 225.9L423.5 226.8L424.6 227.7L425.6 228.5L426.4 229.3L427.2 230.1L427.9 231.0L428.7 231.9L429.4 232.9L430.2 233.9L431.1 235.0L432.0 236.1L432.8 237.1L433.7 238.2L434.5 239.3L435.4 240.3L436.1 241.4L436.8 242.4L437.5 243.4L438.1 244.4L438.6 245.4L439.1 246.4L439.6 247.5L440.1 248.5L440.5 249.5L440.9 250.6L441.3 251.6L441.6 252.6L441.9 253.7L442.2 254.7L442.4 255.7L442.7 256.8L442.9 257.8L443.1 258.9L443.2 259.9L443.4 261.0L443.5 262.0L443.6 263.0L443.7 264.0L443.7 265.0L443.7 266.0L443.7 267.1L443.7 268.1L443.6 269.2L443.6 270.4L443.4 271.6L443.3 272.7L443.1 273.9L442.9 275.1L442.7 276.2L442.4 277.4L442.1 278.5L441.7 279.7L441.2 281.0L440.7 282.3L440.2 283.5L439.7 284.8L439.2 285.9L438.8 286.9L438.5 287.9L438.2 288.7L437.9 289.5L437.6 290.3L437.4 291.0L437.2 291.6L437.0 292.2L436.8 292.6L436.6 293.3L436.8 294.0L437.3 294.5L438.0 294.7L438.7 294.5L439.2 294.0L439.5 293.7L439.9 293.3L440.3 292.8L440.8 292.2L441.4 291.6L442.0 290.8L442.6 290.0L443.2 289.1L443.7 288.1L444.3 287.0L445.0 285.8L445.6 284.5L446.3 283.2L446.9 281.8L447.5 280.4L448.0 279.0L448.4 277.7L448.7 276.3L449.0 275.0L449.3 273.6L449.5 272.3L449.7 271.0L449.8 269.7L449.9 268.5L450.0 267.2L450.0 266.0L449.9 264.8L449.9 263.6L449.8 262.5L449.7 261.3L449.5 260.2L449.4 259.1L449.2 257.9L449.0 256.8L448.8 255.6L448.6 254.4L448.3 253.2L448.1 252.0L447.7 250.8L447.3 249.6L446.9 248.4L446.5 247.2L446.0 246.0L445.5 244.8L444.9 243.6L444.3 242.4L443.6 241.2L442.9 240.0L442.1 238.8L441.3 237.6L440.4 236.5L439.5 235.3L438.6 234.2L437.7 233.1L436.8 232.0L435.9 231.0L435.1 230.0L434.3 229.0L433.5 228.0L432.6 227.0L431.6 225.9L430.6 224.9L429.3 223.9L428.0 222.9L426.5 222.1L424.9 221.2L423.2 220.4L421.4 219.6L419.6 218.9L417.9 218.3L416.1 217.7L414.4 217.4L412.7 217.2L410.9 217.2L409.2 217.3L407.6 217.5L406.1 217.7L404.8 218.0L403.7 218.2L402.9 218.3L402.8 218.3L402.6 218.4L402.6 218.6L402.6 218.7L402.7 218.9ZM433.7 270.3L434.3 274.9L435.2 280.7L436.0 286.6L436.6 291.2L437.0 292.1L437.8 292.7L438.7 292.9L439.6 292.5L440.2 291.7L440.4 290.8L439.9 286.2L439.3 280.3L438.7 274.3L438.3 269.7L437.8 268.6L436.9 267.9L435.7 267.7L434.6 268.2L433.9 269.1ZM452.7 274.7L449.7 278.0L445.7 282.2L441.7 286.4L438.7 289.7L438.2 290.5L438.2 291.5L438.7 292.3L439.5 292.8L440.5 292.8L441.3 292.3L444.6 289.3L448.8 285.3L453.0 281.3L456.3 278.3L456.9 277.1L456.9 275.9L456.3 274.7L455.1 274.1L453.9 274.1Z" fill="#8ed8ec" stroke="#8ed8ec" stroke-width="5.6" stroke-linejoin="round"/>
<path d="M402.9 218.9L403.7 219.0L404.9 219.2L406.2 219.3L407.6 219.6L409.1 219.8L410.6 220.1L412.1 220.5L413.4 221.0L414.7 221.6L416.2 222.3L417.7 223.2L419.2 224.0L420.7 224.9L422.2 225.9L423.5 226.8L424.6 227.7L425.6 228.5L426.4 229.3L427.2 230.1L427.9 231.0L428.7 231.9L429.4 232.9L430.2 233.9L431.1 235.0L432.0 236.1L432.8 237.1L433.7 238.2L434.5 239.3L435.4 240.3L436.1 241.4L436.8 242.4L437.5 243.4L438.1 244.4L438.6 245.4L439.1 246.4L439.6 247.5L440.1 248.5L440.5 249.5L440.9 250.6L441.3 251.6L441.6 252.6L441.9 253.7L442.2 254.7L442.4 255.7L442.7 256.8L442.9 257.8L443.1 258.9L443.2 259.9L443.4 261.0L443.5 262.0L443.6 263.0L443.7 264.0L443.7 265.0L443.7 266.0L443.7 267.1L443.7 268.1L443.6 269.2L443.6 270.4L443.4 271.6L443.3 272.7L443.1 273.9L442.9 275.1L442.7 276.2L442.4 277.4L442.1 278.5L441.7 279.7L441.2 281.0L440.7 282.3L440.2 283.5L439.7 284.8L439.2 285.9L438.8 286.9L438.5 287.9L438.2 288.7L437.9 289.5L437.6 290.3L437.4 291.0L437.2 291.6L437.0 292.2L436.8 292.6L436.6 293.3L436.8 294.0L437.3 294.5L438.0 294.7L438.7 294.5L439.2 294.0L439.5 293.7L439.9 293.3L440.3 292.8L440.8 292.2L441.4 291.6L442.0 290.8L442.6 290.0L443.2 289.1L443.7 288.1L444.3 287.0L445.0 285.8L445.6 284.5L446.3 283.2L446.9 281.8L447.5 280.4L448.0 279.0L448.4 277.7L448.7 276.3L449.0 275.0L449.3 273.6L449.5 272.3L449.7 271.0L449.8 269.7L449.9 268.5L450.0 267.2L450.0 266.0L449.9 264.8L449.9 263.6L449.8 262.5L449.7 261.3L449.5 260.2L449.4 259.1L449.2 257.9L449.0 256.8L448.8 255.6L448.6 254.4L448.3 253.2L448.1 252.0L447.7 250.8L447.3 249.6L446.9 248.4L446.5 247.2L446.0 246.0L445.5 244.8L444.9 243.6L444.3 242.4L443.6 241.2L442.9 240.0L442.1 238.8L441.3 237.6L440.4 236.5L439.5 235.3L438.6 234.2L437.7 233.1L436.8 232.0L435.9 231.0L435.1 230.0L434.3 229.0L433.5 228.0L432.6 227.0L431.6 225.9L430.6 224.9L429.3 223.9L428.0 222.9L426.5 222.1L424.9 221.2L423.2 220.4L421.4 219.6L419.6 218.9L417.9 218.3L416.1 217.7L414.4 217.4L412.7 217.2L410.9 217.2L409.2 217.3L407.6 217.5L406.1 217.7L404.8 218.0L403.7 218.2L402.9 218.3L402.8 218.3L402.6 218.4L402.6 218.6L402.6 218.7L402.7 218.9ZM433.7 270.3L434.3 274.9L435.2 280.7L436.0 286.6L436.6 291.2L437.0 292.1L437.8 292.7L438.7 292.9L439.6 292.5L440.2 291.7L440.4 290.8L439.9 286.2L439.3 280.3L438.7 274.3L438.3 269.7L437.8 268.6L436.9 267.9L435.7 267.7L434.6 268.2L433.9 269.1ZM452.7 274.7L449.7 278.0L445.7 282.2L441.7 286.4L438.7 289.7L438.2 290.5L438.2 291.5L438.7 292.3L439.5 292.8L440.5 292.8L441.3 292.3L444.6 289.3L448.8 285.3L453.0 281.3L456.3 278.3L456.9 277.1L456.9 275.9L456.3 274.7L455.1 274.1L453.9 274.1Z" transform="translate(-2.3 1.4)" fill="#f4b65b" stroke="#f4b65b" stroke-width="0.5" stroke-linejoin="round"/>
<path d="M402.9 218.9L403.7 219.0L404.9 219.2L406.2 219.3L407.6 219.6L409.1 219.8L410.6 220.1L412.1 220.5L413.4 221.0L414.7 221.6L416.2 222.3L417.7 223.2L419.2 224.0L420.7 224.9L422.2 225.9L423.5 226.8L424.6 227.7L425.6 228.5L426.4 229.3L427.2 230.1L427.9 231.0L428.7 231.9L429.4 232.9L430.2 233.9L431.1 235.0L432.0 236.1L432.8 237.1L433.7 238.2L434.5 239.3L435.4 240.3L436.1 241.4L436.8 242.4L437.5 243.4L438.1 244.4L438.6 245.4L439.1 246.4L439.6 247.5L440.1 248.5L440.5 249.5L440.9 250.6L441.3 251.6L441.6 252.6L441.9 253.7L442.2 254.7L442.4 255.7L442.7 256.8L442.9 257.8L443.1 258.9L443.2 259.9L443.4 261.0L443.5 262.0L443.6 263.0L443.7 264.0L443.7 265.0L443.7 266.0L443.7 267.1L443.7 268.1L443.6 269.2L443.6 270.4L443.4 271.6L443.3 272.7L443.1 273.9L442.9 275.1L442.7 276.2L442.4 277.4L442.1 278.5L441.7 279.7L441.2 281.0L440.7 282.3L440.2 283.5L439.7 284.8L439.2 285.9L438.8 286.9L438.5 287.9L438.2 288.7L437.9 289.5L437.6 290.3L437.4 291.0L437.2 291.6L437.0 292.2L436.8 292.6L436.6 293.3L436.8 294.0L437.3 294.5L438.0 294.7L438.7 294.5L439.2 294.0L439.5 293.7L439.9 293.3L440.3 292.8L440.8 292.2L441.4 291.6L442.0 290.8L442.6 290.0L443.2 289.1L443.7 288.1L444.3 287.0L445.0 285.8L445.6 284.5L446.3 283.2L446.9 281.8L447.5 280.4L448.0 279.0L448.4 277.7L448.7 276.3L449.0 275.0L449.3 273.6L449.5 272.3L449.7 271.0L449.8 269.7L449.9 268.5L450.0 267.2L450.0 266.0L449.9 264.8L449.9 263.6L449.8 262.5L449.7 261.3L449.5 260.2L449.4 259.1L449.2 257.9L449.0 256.8L448.8 255.6L448.6 254.4L448.3 253.2L448.1 252.0L447.7 250.8L447.3 249.6L446.9 248.4L446.5 247.2L446.0 246.0L445.5 244.8L444.9 243.6L444.3 242.4L443.6 241.2L442.9 240.0L442.1 238.8L441.3 237.6L440.4 236.5L439.5 235.3L438.6 234.2L437.7 233.1L436.8 232.0L435.9 231.0L435.1 230.0L434.3 229.0L433.5 228.0L432.6 227.0L431.6 225.9L430.6 224.9L429.3 223.9L428.0 222.9L426.5 222.1L424.9 221.2L423.2 220.4L421.4 219.6L419.6 218.9L417.9 218.3L416.1 217.7L414.4 217.4L412.7 217.2L410.9 217.2L409.2 217.3L407.6 217.5L406.1 217.7L404.8 218.0L403.7 218.2L402.9 218.3L402.8 218.3L402.6 218.4L402.6 218.6L402.6 218.7L402.7 218.9ZM433.7 270.3L434.3 274.9L435.2 280.7L436.0 286.6L436.6 291.2L437.0 292.1L437.8 292.7L438.7 292.9L439.6 292.5L440.2 291.7L440.4 290.8L439.9 286.2L439.3 280.3L438.7 274.3L438.3 269.7L437.8 268.6L436.9 267.9L435.7 267.7L434.6 268.2L433.9 269.1ZM452.7 274.7L449.7 278.0L445.7 282.2L441.7 286.4L438.7 289.7L438.2 290.5L438.2 291.5L438.7 292.3L439.5 292.8L440.5 292.8L441.3 292.3L444.6 289.3L448.8 285.3L453.0 281.3L456.3 278.3L456.9 277.1L456.9 275.9L456.3 274.7L455.1 274.1L453.9 274.1Z" fill="#000"/>
</g>
</svg>
<div class="t" style="left:106.0px;top:90.6px;width:500px;font-size:15px;line-height:18.85px;font-weight:bold;color:#111;">Remember that de-fusion involves<br>distancing or seeing thoughts and<br>feelings for what they are, not what<br>they say they are (i.e. just words, not<br>facts).</div>
<div class="t" style="left:-137.2px;top:140.3px;width:500px;font-size:10.8px;line-height:13px;font-weight:normal;color:#1c1c1c;">Write down your thought, now say it out<br><span style="letter-spacing:0.02px;">loud or in your head but in a silly voice/</span><br>cartoon characters voice.<br>The more ridiculous, the better!</div>
<div class="t" style="left:-51.099999999999994px;top:294.2px;width:500px;font-size:10.7px;line-height:13.05px;font-weight:normal;color:#1c1c1c;">Whatever your mind says to<br><span style="letter-spacing:0.1px;">you, no matter how mean</span><br>or nasty it is, with a sense of<br><span style="letter-spacing:0.15px;">humour and playfulness,</span><br>you reply;<br>“Thanks mind, thanks for<br>sharing”</div>
<div class="t" style="left:346.0px;top:230.3px;width:500px;font-size:10.9px;line-height:13.2px;font-weight:normal;color:#1c1c1c;">Think of&nbsp; thoughts as<br>familiar stories. Pay<br>attention to how often they<br>reoccur; “oh look here's the<br>I'm not good enough story<br>again”.</div>
<div class="t" style="left:237.3px;top:446.5px;width:500px;font-size:12px;line-height:14.85px;font-weight:normal;color:#1c1c1c;">A helpful skill to use alongside the de-fusion techniques, it involves giving full<br><span style="letter-spacing:0.125px;">attention to the present moment. Observing what’s happening around you</span><br><span style="letter-spacing:0.03px;position:relative;left:-2px;">without judgement as well as what’s going on inside you.</span></div>
<div class="t" style="left:166.0px;top:343.9px;width:500px;font-size:10.7px;line-height:13px;font-weight:normal;color:#1c1c1c;">Identify the emotion you’re feeling<br><span style="letter-spacing:0.1px;">or label the unhelpful thoughts.</span><br>“I’m noticing that I’m having the<br><span style="letter-spacing:-0.13px;position:relative;left:-2.5px;">thought/feeling that ...”</span></div>
<svg id="heads" viewBox="0 0 713 505" width="713" height="505" font-family="'Liberation Sans', sans-serif" font-weight="bold" fill="#000" stroke="#000" stroke-linejoin="round">
<text x="360.3" y="13.0" text-anchor="middle" textLength="119" lengthAdjust="spacingAndGlyphs" font-size="11.2" stroke-width="0.4">ACT THERAPY</text>
<text x="360.1" y="48.0" text-anchor="middle" textLength="171" lengthAdjust="spacingAndGlyphs" font-size="20.6" stroke-width="0.9">DE-FUSION</text>
<text x="360.6" y="77.6" text-anchor="middle" textLength="201.6" lengthAdjust="spacingAndGlyphs" font-size="20.6" stroke-width="0.9">TECHNIQUES</text>
<text x="113.7" y="136.2" text-anchor="middle" textLength="132.6" lengthAdjust="spacingAndGlyphs" font-size="10.8" stroke-width="0.7">THE SILLY VOICE</text>
<text x="199.5" y="275.6" text-anchor="middle" textLength="99" lengthAdjust="spacingAndGlyphs" font-size="10.6" stroke-width="0.7">THANK YOU,</text>
<text x="199.1" y="289.6" text-anchor="middle" textLength="45.8" lengthAdjust="spacingAndGlyphs" font-size="10.6" stroke-width="0.7">MIND</text>
<text x="596.2" y="211.7" text-anchor="middle" textLength="87.1" lengthAdjust="spacingAndGlyphs" font-size="10.6" stroke-width="0.7">NAME THE</text>
<text x="596.2" y="227.0" text-anchor="middle" textLength="53.6" lengthAdjust="spacingAndGlyphs" font-size="10.6" stroke-width="0.7">STORY</text>
<text x="416" y="339.5" text-anchor="middle" textLength="79" lengthAdjust="spacingAndGlyphs" font-size="10.8" stroke-width="0.7">NOTICING</text>
<text x="487.4" y="443.4" text-anchor="middle" textLength="119.8" lengthAdjust="spacingAndGlyphs" font-size="10.6" stroke-width="0.7">MINDFULNESS</text>
</svg>
<div id="wm"><span>Psychology Resource Hub</span></div>
</body>
</html>
